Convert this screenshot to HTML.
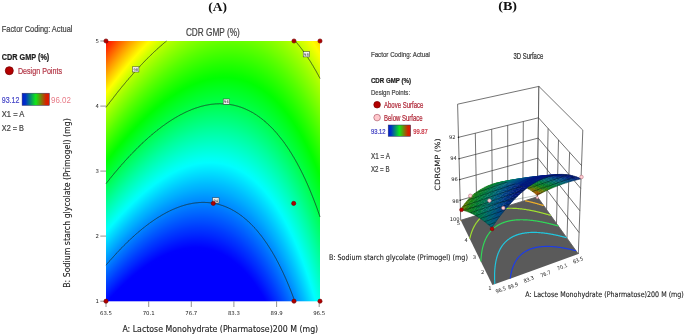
<!DOCTYPE html>
<html><head><meta charset="utf-8"><title>Figure</title><style>html,body{margin:0;padding:0;background:#fff}svg{display:block;filter:blur(0.35px)}</style></head><body>
<svg width="685" height="335" viewBox="0 0 685 335">
<defs>
<radialGradient id="rg" gradientUnits="userSpaceOnUse" cx="0" cy="0" r="1" fx="0" fy="0" gradientTransform="matrix(-341.058036 1895.843439 -352.129907 -93.723720 -72.5699 1822.8428)">
<stop offset="0.80079" stop-color="#0000ff"/>
<stop offset="0.80303" stop-color="#0000ff"/>
<stop offset="0.80526" stop-color="#0000ff"/>
<stop offset="0.80750" stop-color="#0000ff"/>
<stop offset="0.80974" stop-color="#0000ff"/>
<stop offset="0.81198" stop-color="#0000ff"/>
<stop offset="0.81422" stop-color="#0000ff"/>
<stop offset="0.81646" stop-color="#0000ff"/>
<stop offset="0.81869" stop-color="#0000ff"/>
<stop offset="0.82093" stop-color="#0000ff"/>
<stop offset="0.82317" stop-color="#0000ff"/>
<stop offset="0.82541" stop-color="#0000ff"/>
<stop offset="0.82765" stop-color="#0000ff"/>
<stop offset="0.82989" stop-color="#0001ff"/>
<stop offset="0.83212" stop-color="#000dff"/>
<stop offset="0.83436" stop-color="#0019ff"/>
<stop offset="0.83660" stop-color="#0026ff"/>
<stop offset="0.83884" stop-color="#0032ff"/>
<stop offset="0.84108" stop-color="#003eff"/>
<stop offset="0.84332" stop-color="#004bff"/>
<stop offset="0.84555" stop-color="#0057ff"/>
<stop offset="0.84779" stop-color="#0064ff"/>
<stop offset="0.85003" stop-color="#0070ff"/>
<stop offset="0.85227" stop-color="#007dff"/>
<stop offset="0.85451" stop-color="#008aff"/>
<stop offset="0.85675" stop-color="#0096ff"/>
<stop offset="0.85898" stop-color="#00a3ff"/>
<stop offset="0.86122" stop-color="#00b0ff"/>
<stop offset="0.86346" stop-color="#00bcff"/>
<stop offset="0.86570" stop-color="#00c9ff"/>
<stop offset="0.86794" stop-color="#00d6ff"/>
<stop offset="0.87018" stop-color="#00e3ff"/>
<stop offset="0.87241" stop-color="#00f0ff"/>
<stop offset="0.87465" stop-color="#00fdff"/>
<stop offset="0.87689" stop-color="#00fff4"/>
<stop offset="0.87913" stop-color="#00ffe7"/>
<stop offset="0.88137" stop-color="#00ffda"/>
<stop offset="0.88361" stop-color="#00ffcd"/>
<stop offset="0.88584" stop-color="#00ffc0"/>
<stop offset="0.88808" stop-color="#00ffb3"/>
<stop offset="0.89032" stop-color="#00ffa6"/>
<stop offset="0.89256" stop-color="#00ff99"/>
<stop offset="0.89480" stop-color="#00ff8b"/>
<stop offset="0.89704" stop-color="#00ff7e"/>
<stop offset="0.89927" stop-color="#00ff71"/>
<stop offset="0.90151" stop-color="#00ff64"/>
<stop offset="0.90375" stop-color="#00ff56"/>
<stop offset="0.90599" stop-color="#00ff49"/>
<stop offset="0.90823" stop-color="#00ff3d"/>
<stop offset="0.91047" stop-color="#00ff31"/>
<stop offset="0.91270" stop-color="#00ff26"/>
<stop offset="0.91494" stop-color="#00ff1a"/>
<stop offset="0.91718" stop-color="#00ff0e"/>
<stop offset="0.91942" stop-color="#00ff02"/>
<stop offset="0.92166" stop-color="#0aff00"/>
<stop offset="0.92390" stop-color="#16ff00"/>
<stop offset="0.92613" stop-color="#21ff00"/>
<stop offset="0.92837" stop-color="#2dff00"/>
<stop offset="0.93061" stop-color="#39ff00"/>
<stop offset="0.93285" stop-color="#45ff00"/>
<stop offset="0.93509" stop-color="#51ff00"/>
<stop offset="0.93733" stop-color="#5dff00"/>
<stop offset="0.93956" stop-color="#6aff00"/>
<stop offset="0.94180" stop-color="#76ff00"/>
<stop offset="0.94404" stop-color="#82ff00"/>
<stop offset="0.94628" stop-color="#8eff00"/>
<stop offset="0.94852" stop-color="#9aff00"/>
<stop offset="0.95076" stop-color="#a6ff00"/>
<stop offset="0.95299" stop-color="#b3ff00"/>
<stop offset="0.95523" stop-color="#c0ff00"/>
<stop offset="0.95747" stop-color="#d0ff00"/>
<stop offset="0.95971" stop-color="#e0ff00"/>
<stop offset="0.96195" stop-color="#f0ff00"/>
<stop offset="0.96419" stop-color="#fffe00"/>
<stop offset="0.96642" stop-color="#ffee00"/>
<stop offset="0.96866" stop-color="#ffdd00"/>
<stop offset="0.97090" stop-color="#ffcd00"/>
<stop offset="0.97314" stop-color="#ffbd00"/>
<stop offset="0.97538" stop-color="#ffac00"/>
<stop offset="0.97762" stop-color="#ff9c00"/>
<stop offset="0.97985" stop-color="#ff8b00"/>
<stop offset="0.98209" stop-color="#ff7b00"/>
<stop offset="0.98433" stop-color="#ff6a00"/>
<stop offset="0.98657" stop-color="#ff5a00"/>
<stop offset="0.98881" stop-color="#ff4900"/>
<stop offset="0.99105" stop-color="#ff3800"/>
<stop offset="0.99328" stop-color="#ff2800"/>
<stop offset="0.99552" stop-color="#ff1700"/>
<stop offset="0.99776" stop-color="#ff0600"/>
<stop offset="1.00000" stop-color="#ff0000"/>
</radialGradient>
<linearGradient id="cb"><stop offset="0" stop-color="#0020d0"/><stop offset="0.12" stop-color="#0030c8"/><stop offset="0.5" stop-color="#10e818"/><stop offset="0.88" stop-color="#d82000"/><stop offset="1" stop-color="#e01800"/></linearGradient>
</defs>
<rect width="685" height="335" fill="#fff"/>
<text x="1.8" y="31.6" font-family="Liberation Sans, Arial, sans-serif" font-size="9.00" font-weight="normal" fill="#444" textLength="70.6" lengthAdjust="spacingAndGlyphs" stroke="#444" stroke-width="0.22">Factor Coding: Actual</text>
<text x="1.8" y="60.2" font-family="Liberation Sans, Arial, sans-serif" font-size="8.60" font-weight="bold" fill="#1c1c1c" textLength="47.5" lengthAdjust="spacingAndGlyphs" stroke="#1c1c1c" stroke-width="0.22">CDR GMP (%)</text>
<circle cx="9.3" cy="70.7" r="4" fill="#b40000" stroke="#7a0000" stroke-width="0.8"/>
<text x="17.9" y="74.4" font-family="Liberation Sans, Arial, sans-serif" font-size="9.00" font-weight="normal" fill="#b43848" textLength="44.1" lengthAdjust="spacingAndGlyphs" stroke="#b43848" stroke-width="0.22">Design Points</text>
<text x="1.8" y="102.6" font-family="Liberation Sans, Arial, sans-serif" font-size="8.60" font-weight="normal" fill="#4848c8" textLength="17.6" lengthAdjust="spacingAndGlyphs" stroke="#4848c8" stroke-width="0.22">93.12</text>
<rect x="22.1" y="93.2" width="27.2" height="12.2" fill="url(#cb)" stroke="#303060" stroke-width="0.5"/>
<text x="51.0" y="102.9" font-family="Liberation Sans, Arial, sans-serif" font-size="9.30" font-weight="normal" fill="#e87c88" textLength="19.9" lengthAdjust="spacingAndGlyphs" stroke-opacity="0" stroke="#e87c88" stroke-width="0.22">96.02</text>
<text x="1.8" y="117.1" font-family="Liberation Sans, Arial, sans-serif" font-size="8.60" font-weight="normal" fill="#444" textLength="22.5" lengthAdjust="spacingAndGlyphs" stroke="#444" stroke-width="0.22">X1 = A</text>
<text x="1.8" y="131.0" font-family="Liberation Sans, Arial, sans-serif" font-size="8.60" font-weight="normal" fill="#444" textLength="22.1" lengthAdjust="spacingAndGlyphs" stroke="#444" stroke-width="0.22">X2 = B</text>
<text x="185.9" y="35.9" font-family="Liberation Sans, Arial, sans-serif" font-size="10.40" font-weight="normal" fill="#444" textLength="53.8" lengthAdjust="spacingAndGlyphs" stroke="#444" stroke-width="0.22">CDR GMP (%)</text>
<text x="208.2" y="10.6" font-family="Liberation Serif, Times New Roman, serif" font-size="13.20" font-weight="bold" fill="#111" textLength="18.7" lengthAdjust="spacingAndGlyphs">(A)</text>
<text x="498.2" y="10.1" font-family="Liberation Serif, Times New Roman, serif" font-size="13.20" font-weight="bold" fill="#111" textLength="18.8" lengthAdjust="spacingAndGlyphs">(B)</text>
<rect x="106.0" y="41.0" width="214.0" height="260.3" fill="url(#rg)"/>
<polyline fill="none" stroke="#1c2c24" stroke-opacity="0.85" stroke-width="0.9" points="106.0,265.2 106.3,264.8 106.5,264.5 106.8,264.2 107.1,263.9 107.3,263.6 107.6,263.3 107.9,263.0 108.1,262.7 108.4,262.3 108.7,262.0 108.9,261.7 109.2,261.4 109.5,261.1 109.7,260.8 110.0,260.5 110.3,260.2 110.5,259.9 110.8,259.6 111.1,259.3 111.4,259.0 111.6,258.7 111.9,258.4 112.2,258.1 112.4,257.8 112.7,257.5 113.0,257.2 113.2,256.9 113.5,256.6 113.8,256.3 114.0,256.0 114.3,255.7 114.6,255.4 114.8,255.1 115.1,254.8 115.4,254.5 115.6,254.2 115.9,254.0 116.2,253.7 116.4,253.4 116.7,253.1 117.0,252.8 117.2,252.5 117.5,252.2 117.8,251.9 118.0,251.7 118.3,251.4 118.6,251.1 118.8,250.8 119.1,250.5 119.4,250.2 119.6,250.0 119.9,249.7 120.2,249.4 120.4,249.1 120.7,248.8 121.0,248.6 121.2,248.3 121.5,248.0 121.8,247.7 122.0,247.5 122.3,247.2 122.6,246.9 122.9,246.6 123.1,246.4 123.4,246.1 123.7,245.8 123.9,245.6 124.2,245.3 124.5,245.0 124.7,244.8 125.0,244.5 125.3,244.2 125.5,244.0 125.8,243.7 126.1,243.4 126.3,243.2 126.6,242.9 126.9,242.6 127.1,242.4 127.4,242.1 127.7,241.9 127.9,241.6 128.2,241.4 128.5,241.1 128.7,240.8 129.0,240.6 129.3,240.3 129.5,240.1 129.8,239.8 130.1,239.6 130.3,239.3 130.6,239.1 130.9,238.8 131.1,238.6 131.4,238.3 131.7,238.1 131.9,237.8 132.2,237.6 132.5,237.3 132.8,237.1 133.0,236.8 133.3,236.6 133.6,236.4 133.8,236.1 134.1,235.9 134.4,235.6 134.6,235.4 134.9,235.2 135.2,234.9 135.4,234.7 135.7,234.4 136.0,234.2 136.2,234.0 136.5,233.7 136.8,233.5 137.0,233.3 137.3,233.0 137.6,232.8 137.8,232.6 138.1,232.3 138.4,232.1 138.6,231.9 138.9,231.7 139.2,231.4 139.4,231.2 139.7,231.0 140.0,230.8 140.2,230.5 140.5,230.3 140.8,230.1 141.0,229.9 141.3,229.7 141.6,229.4 141.8,229.2 142.1,229.0 142.4,228.8 142.6,228.6 142.9,228.3 143.2,228.1 143.4,227.9 143.7,227.7 144.0,227.5 144.3,227.3 144.5,227.1 144.8,226.9 145.1,226.6 145.3,226.4 145.6,226.2 145.9,226.0 146.1,225.8 146.4,225.6 146.7,225.4 146.9,225.2 147.2,225.0 147.5,224.8 147.7,224.6 148.0,224.4 148.3,224.2 148.5,224.0 148.8,223.8 149.1,223.6 149.3,223.4 149.6,223.2 149.9,223.0 150.1,222.8 150.4,222.6 150.7,222.4 150.9,222.2 151.2,222.1 151.5,221.9 151.7,221.7 152.0,221.5 152.3,221.3 152.5,221.1 152.8,220.9 153.1,220.7 153.3,220.6 153.6,220.4 153.9,220.2 154.2,220.0 154.4,219.8 154.7,219.7 155.0,219.5 155.2,219.3 155.5,219.1 155.8,218.9 156.0,218.8 156.3,218.6 156.6,218.4 156.8,218.2 157.1,218.1 157.4,217.9 157.6,217.7 157.9,217.6 158.2,217.4 158.4,217.2 158.7,217.1 159.0,216.9 159.2,216.7 159.5,216.6 159.8,216.4 160.0,216.2 160.3,216.1 160.6,215.9 160.8,215.8 161.1,215.6 161.4,215.4 161.6,215.3 161.9,215.1 162.2,215.0 162.4,214.8 162.7,214.7 163.0,214.5 163.2,214.3 163.5,214.2 163.8,214.0 164.0,213.9 164.3,213.7 164.6,213.6 164.8,213.5 165.1,213.3 165.4,213.2 165.7,213.0 165.9,212.9 166.2,212.7 166.5,212.6 166.7,212.4 167.0,212.3 167.3,212.2 167.5,212.0 167.8,211.9 168.1,211.8 168.3,211.6 168.6,211.5 168.9,211.4 169.1,211.2 169.4,211.1 169.7,211.0 169.9,210.8 170.2,210.7 170.5,210.6 170.7,210.4 171.0,210.3 171.3,210.2 171.5,210.1 171.8,209.9 172.1,209.8 172.3,209.7 172.6,209.6 172.9,209.5 173.1,209.3 173.4,209.2 173.7,209.1 173.9,209.0 174.2,208.9 174.5,208.8 174.7,208.7 175.0,208.5 175.3,208.4 175.6,208.3 175.8,208.2 176.1,208.1 176.4,208.0 176.6,207.9 176.9,207.8 177.2,207.7 177.4,207.6 177.7,207.5 178.0,207.4 178.2,207.3 178.5,207.2 178.8,207.1 179.0,207.0 179.3,206.9 179.6,206.8 179.8,206.7 180.1,206.6 180.4,206.5 180.6,206.4 180.9,206.3 181.2,206.2 181.4,206.1 181.7,206.1 182.0,206.0 182.2,205.9 182.5,205.8 182.8,205.7 183.0,205.6 183.3,205.5 183.6,205.5 183.8,205.4 184.1,205.3 184.4,205.2 184.6,205.2 184.9,205.1 185.2,205.0 185.4,204.9 185.7,204.9 186.0,204.8 186.2,204.7 186.5,204.6 186.8,204.6 187.1,204.5 187.3,204.4 187.6,204.4 187.9,204.3 188.1,204.2 188.4,204.2 188.7,204.1 188.9,204.1 189.2,204.0 189.5,203.9 189.7,203.9 190.0,203.8 190.3,203.8 190.5,203.7 190.8,203.7 191.1,203.6 191.3,203.6 191.6,203.5 191.9,203.5 192.1,203.4 192.4,203.4 192.7,203.3 192.9,203.3 193.2,203.2 193.5,203.2 193.7,203.2 194.0,203.1 194.3,203.1 194.5,203.0 194.8,203.0 195.1,203.0 195.3,202.9 195.6,202.9 195.9,202.9 196.1,202.8 196.4,202.8 196.7,202.8 196.9,202.7 197.2,202.7 197.5,202.7 197.8,202.7 198.0,202.6 198.3,202.6 198.6,202.6 198.8,202.6 199.1,202.6 199.4,202.5 199.6,202.5 199.9,202.5 200.2,202.5 200.4,202.5 200.7,202.5 201.0,202.5 201.2,202.5 201.5,202.4 201.8,202.4 202.0,202.4 202.3,202.4 202.6,202.4 202.8,202.4 203.1,202.4 203.4,202.4 203.6,202.4 203.9,202.4 204.2,202.4 204.4,202.4 204.7,202.4 205.0,202.4 205.2,202.4 205.5,202.5 205.8,202.5 206.0,202.5 206.3,202.5 206.6,202.5 206.8,202.5 207.1,202.5 207.4,202.5 207.7,202.6 207.9,202.6 208.2,202.6 208.5,202.6 208.7,202.7 209.0,202.7 209.3,202.7 209.5,202.7 209.8,202.8 210.1,202.8 210.3,202.8 210.6,202.8 210.9,202.9 211.1,202.9 211.4,203.0 211.7,203.0 211.9,203.0 212.2,203.1 212.5,203.1 212.7,203.1 213.0,203.2 213.3,203.2 213.5,203.3 213.8,203.3 214.1,203.4 214.3,203.4 214.6,203.5 214.9,203.5 215.1,203.6 215.4,203.6 215.7,203.7 215.9,203.8 216.2,203.8 216.5,203.9 216.7,203.9 217.0,204.0 217.3,204.1 217.5,204.1 217.8,204.2 218.1,204.3 218.3,204.3 218.6,204.4 218.9,204.5 219.2,204.5 219.4,204.6 219.7,204.7 220.0,204.8 220.2,204.9 220.5,204.9 220.8,205.0 221.0,205.1 221.3,205.2 221.6,205.3 221.8,205.4 222.1,205.4 222.4,205.5 222.6,205.6 222.9,205.7 223.2,205.8 223.4,205.9 223.7,206.0 224.0,206.1 224.2,206.2 224.5,206.3 224.8,206.4 225.0,206.5 225.3,206.6 225.6,206.7 225.8,206.8 226.1,206.9 226.4,207.0 226.6,207.2 226.9,207.3 227.2,207.4 227.4,207.5 227.7,207.6 228.0,207.7 228.2,207.9 228.5,208.0 228.8,208.1 229.1,208.2 229.3,208.4 229.6,208.5 229.9,208.6 230.1,208.8 230.4,208.9 230.7,209.0 230.9,209.2 231.2,209.3 231.5,209.4 231.7,209.6 232.0,209.7 232.3,209.9 232.5,210.0 232.8,210.2 233.1,210.3 233.3,210.5 233.6,210.6 233.9,210.8 234.1,210.9 234.4,211.1 234.7,211.2 234.9,211.4 235.2,211.6 235.5,211.7 235.7,211.9 236.0,212.1 236.3,212.2 236.5,212.4 236.8,212.6 237.1,212.7 237.3,212.9 237.6,213.1 237.9,213.3 238.1,213.4 238.4,213.6 238.7,213.8 238.9,214.0 239.2,214.2 239.5,214.4 239.8,214.5 240.0,214.7 240.3,214.9 240.6,215.1 240.8,215.3 241.1,215.5 241.4,215.7 241.6,215.9 241.9,216.1 242.2,216.3 242.4,216.5 242.7,216.7 243.0,217.0 243.2,217.2 243.5,217.4 243.8,217.6 244.0,217.8 244.3,218.0 244.6,218.2 244.8,218.5 245.1,218.7 245.4,218.9 245.6,219.1 245.9,219.4 246.2,219.6 246.4,219.8 246.7,220.1 247.0,220.3 247.2,220.6 247.5,220.8 247.8,221.0 248.0,221.3 248.3,221.5 248.6,221.8 248.8,222.0 249.1,222.3 249.4,222.5 249.6,222.8 249.9,223.0 250.2,223.3 250.5,223.6 250.7,223.8 251.0,224.1 251.3,224.4 251.5,224.6 251.8,224.9 252.1,225.2 252.3,225.4 252.6,225.7 252.9,226.0 253.1,226.3 253.4,226.6 253.7,226.9 253.9,227.1 254.2,227.4 254.5,227.7 254.7,228.0 255.0,228.3 255.3,228.6 255.5,228.9 255.8,229.2 256.1,229.5 256.3,229.8 256.6,230.1 256.9,230.4 257.1,230.7 257.4,231.1 257.7,231.4 257.9,231.7 258.2,232.0 258.5,232.3 258.7,232.7 259.0,233.0 259.3,233.3 259.5,233.7 259.8,234.0 260.1,234.3 260.3,234.7 260.6,235.0 260.9,235.3 261.1,235.7 261.4,236.0 261.7,236.4 262.0,236.7 262.2,237.1 262.5,237.4 262.8,237.8 263.0,238.2 263.3,238.5 263.6,238.9 263.8,239.3 264.1,239.6 264.4,240.0 264.6,240.4 264.9,240.8 265.2,241.1 265.4,241.5 265.7,241.9 266.0,242.3 266.2,242.7 266.5,243.1 266.8,243.5 267.0,243.9 267.3,244.3 267.6,244.7 267.8,245.1 268.1,245.5 268.4,245.9 268.6,246.3 268.9,246.7 269.2,247.1 269.4,247.6 269.7,248.0 270.0,248.4 270.2,248.8 270.5,249.3 270.8,249.7 271.0,250.1 271.3,250.6 271.6,251.0 271.9,251.5 272.1,251.9 272.4,252.3 272.7,252.8 272.9,253.3 273.2,253.7 273.5,254.2 273.7,254.6 274.0,255.1 274.3,255.6 274.5,256.0 274.8,256.5 275.1,257.0 275.3,257.5 275.6,258.0 275.9,258.4 276.1,258.9 276.4,259.4 276.7,259.9 276.9,260.4 277.2,260.9 277.5,261.4 277.7,261.9 278.0,262.4 278.3,263.0 278.5,263.5 278.8,264.0 279.1,264.5 279.3,265.0 279.6,265.6 279.9,266.1 280.1,266.6 280.4,267.2 280.7,267.7 280.9,268.3 281.2,268.8 281.5,269.4 281.7,269.9 282.0,270.5 282.3,271.0 282.6,271.6 282.8,272.2 283.1,272.7 283.4,273.3 283.6,273.9 283.9,274.5 284.2,275.0 284.4,275.6 284.7,276.2 285.0,276.8 285.2,277.4 285.5,278.0 285.8,278.6 286.0,279.2 286.3,279.8 286.6,280.5 286.8,281.1 287.1,281.7 287.4,282.3 287.6,283.0 287.9,283.6 288.2,284.2 288.4,284.9 288.7,285.5 289.0,286.2 289.2,286.8 289.5,287.5 289.8,288.2 290.0,288.8 290.3,289.5 290.6,290.2 290.8,290.9 291.1,291.5 291.4,292.2 291.6,292.9 291.9,293.6 292.2,294.3 292.4,295.0 292.7,295.7 293.0,296.4 293.2,297.1 293.5,297.9 293.8,298.6 294.1,299.3 294.3,300.1 294.6,300.8"/>
<polyline fill="none" stroke="#1c2c24" stroke-opacity="0.85" stroke-width="0.9" points="106.0,183.7 106.3,183.3 106.5,183.0 106.8,182.6 107.1,182.3 107.3,182.0 107.6,181.6 107.9,181.3 108.1,181.0 108.4,180.6 108.7,180.3 108.9,179.9 109.2,179.6 109.5,179.3 109.7,178.9 110.0,178.6 110.3,178.3 110.5,178.0 110.8,177.6 111.1,177.3 111.4,177.0 111.6,176.6 111.9,176.3 112.2,176.0 112.4,175.7 112.7,175.3 113.0,175.0 113.2,174.7 113.5,174.4 113.8,174.0 114.0,173.7 114.3,173.4 114.6,173.1 114.8,172.7 115.1,172.4 115.4,172.1 115.6,171.8 115.9,171.5 116.2,171.1 116.4,170.8 116.7,170.5 117.0,170.2 117.2,169.9 117.5,169.6 117.8,169.3 118.0,168.9 118.3,168.6 118.6,168.3 118.8,168.0 119.1,167.7 119.4,167.4 119.6,167.1 119.9,166.8 120.2,166.5 120.4,166.2 120.7,165.8 121.0,165.5 121.2,165.2 121.5,164.9 121.8,164.6 122.0,164.3 122.3,164.0 122.6,163.7 122.9,163.4 123.1,163.1 123.4,162.8 123.7,162.5 123.9,162.2 124.2,161.9 124.5,161.6 124.7,161.3 125.0,161.0 125.3,160.7 125.5,160.4 125.8,160.1 126.1,159.8 126.3,159.6 126.6,159.3 126.9,159.0 127.1,158.7 127.4,158.4 127.7,158.1 127.9,157.8 128.2,157.5 128.5,157.2 128.7,156.9 129.0,156.7 129.3,156.4 129.5,156.1 129.8,155.8 130.1,155.5 130.3,155.2 130.6,155.0 130.9,154.7 131.1,154.4 131.4,154.1 131.7,153.8 131.9,153.6 132.2,153.3 132.5,153.0 132.8,152.7 133.0,152.4 133.3,152.2 133.6,151.9 133.8,151.6 134.1,151.3 134.4,151.1 134.6,150.8 134.9,150.5 135.2,150.3 135.4,150.0 135.7,149.7 136.0,149.4 136.2,149.2 136.5,148.9 136.8,148.6 137.0,148.4 137.3,148.1 137.6,147.8 137.8,147.6 138.1,147.3 138.4,147.1 138.6,146.8 138.9,146.5 139.2,146.3 139.4,146.0 139.7,145.7 140.0,145.5 140.2,145.2 140.5,145.0 140.8,144.7 141.0,144.5 141.3,144.2 141.6,144.0 141.8,143.7 142.1,143.4 142.4,143.2 142.6,142.9 142.9,142.7 143.2,142.4 143.4,142.2 143.7,141.9 144.0,141.7 144.3,141.4 144.5,141.2 144.8,141.0 145.1,140.7 145.3,140.5 145.6,140.2 145.9,140.0 146.1,139.7 146.4,139.5 146.7,139.2 146.9,139.0 147.2,138.8 147.5,138.5 147.7,138.3 148.0,138.1 148.3,137.8 148.5,137.6 148.8,137.3 149.1,137.1 149.3,136.9 149.6,136.6 149.9,136.4 150.1,136.2 150.4,135.9 150.7,135.7 150.9,135.5 151.2,135.3 151.5,135.0 151.7,134.8 152.0,134.6 152.3,134.4 152.5,134.1 152.8,133.9 153.1,133.7 153.3,133.5 153.6,133.2 153.9,133.0 154.2,132.8 154.4,132.6 154.7,132.3 155.0,132.1 155.2,131.9 155.5,131.7 155.8,131.5 156.0,131.3 156.3,131.0 156.6,130.8 156.8,130.6 157.1,130.4 157.4,130.2 157.6,130.0 157.9,129.8 158.2,129.6 158.4,129.4 158.7,129.1 159.0,128.9 159.2,128.7 159.5,128.5 159.8,128.3 160.0,128.1 160.3,127.9 160.6,127.7 160.8,127.5 161.1,127.3 161.4,127.1 161.6,126.9 161.9,126.7 162.2,126.5 162.4,126.3 162.7,126.1 163.0,125.9 163.2,125.7 163.5,125.5 163.8,125.3 164.0,125.1 164.3,125.0 164.6,124.8 164.8,124.6 165.1,124.4 165.4,124.2 165.7,124.0 165.9,123.8 166.2,123.6 166.5,123.4 166.7,123.3 167.0,123.1 167.3,122.9 167.5,122.7 167.8,122.5 168.1,122.3 168.3,122.2 168.6,122.0 168.9,121.8 169.1,121.6 169.4,121.4 169.7,121.3 169.9,121.1 170.2,120.9 170.5,120.7 170.7,120.6 171.0,120.4 171.3,120.2 171.5,120.1 171.8,119.9 172.1,119.7 172.3,119.6 172.6,119.4 172.9,119.2 173.1,119.1 173.4,118.9 173.7,118.7 173.9,118.6 174.2,118.4 174.5,118.2 174.7,118.1 175.0,117.9 175.3,117.8 175.6,117.6 175.8,117.4 176.1,117.3 176.4,117.1 176.6,117.0 176.9,116.8 177.2,116.7 177.4,116.5 177.7,116.4 178.0,116.2 178.2,116.1 178.5,115.9 178.8,115.8 179.0,115.6 179.3,115.5 179.6,115.3 179.8,115.2 180.1,115.0 180.4,114.9 180.6,114.7 180.9,114.6 181.2,114.5 181.4,114.3 181.7,114.2 182.0,114.0 182.2,113.9 182.5,113.8 182.8,113.6 183.0,113.5 183.3,113.4 183.6,113.2 183.8,113.1 184.1,113.0 184.4,112.8 184.6,112.7 184.9,112.6 185.2,112.4 185.4,112.3 185.7,112.2 186.0,112.1 186.2,111.9 186.5,111.8 186.8,111.7 187.1,111.6 187.3,111.4 187.6,111.3 187.9,111.2 188.1,111.1 188.4,111.0 188.7,110.9 188.9,110.7 189.2,110.6 189.5,110.5 189.7,110.4 190.0,110.3 190.3,110.2 190.5,110.1 190.8,110.0 191.1,109.8 191.3,109.7 191.6,109.6 191.9,109.5 192.1,109.4 192.4,109.3 192.7,109.2 192.9,109.1 193.2,109.0 193.5,108.9 193.7,108.8 194.0,108.7 194.3,108.6 194.5,108.5 194.8,108.4 195.1,108.3 195.3,108.2 195.6,108.1 195.9,108.0 196.1,107.9 196.4,107.9 196.7,107.8 196.9,107.7 197.2,107.6 197.5,107.5 197.8,107.4 198.0,107.3 198.3,107.3 198.6,107.2 198.8,107.1 199.1,107.0 199.4,106.9 199.6,106.8 199.9,106.8 200.2,106.7 200.4,106.6 200.7,106.5 201.0,106.5 201.2,106.4 201.5,106.3 201.8,106.2 202.0,106.2 202.3,106.1 202.6,106.0 202.8,106.0 203.1,105.9 203.4,105.8 203.6,105.8 203.9,105.7 204.2,105.6 204.4,105.6 204.7,105.5 205.0,105.5 205.2,105.4 205.5,105.3 205.8,105.3 206.0,105.2 206.3,105.2 206.6,105.1 206.8,105.1 207.1,105.0 207.4,105.0 207.7,104.9 207.9,104.9 208.2,104.8 208.5,104.8 208.7,104.7 209.0,104.7 209.3,104.6 209.5,104.6 209.8,104.6 210.1,104.5 210.3,104.5 210.6,104.4 210.9,104.4 211.1,104.4 211.4,104.3 211.7,104.3 211.9,104.3 212.2,104.2 212.5,104.2 212.7,104.2 213.0,104.1 213.3,104.1 213.5,104.1 213.8,104.1 214.1,104.0 214.3,104.0 214.6,104.0 214.9,104.0 215.1,103.9 215.4,103.9 215.7,103.9 215.9,103.9 216.2,103.9 216.5,103.9 216.7,103.8 217.0,103.8 217.3,103.8 217.5,103.8 217.8,103.8 218.1,103.8 218.3,103.8 218.6,103.8 218.9,103.8 219.2,103.8 219.4,103.7 219.7,103.7 220.0,103.7 220.2,103.7 220.5,103.7 220.8,103.7 221.0,103.7 221.3,103.8 221.6,103.8 221.8,103.8 222.1,103.8 222.4,103.8 222.6,103.8 222.9,103.8 223.2,103.8 223.4,103.8 223.7,103.8 224.0,103.9 224.2,103.9 224.5,103.9 224.8,103.9 225.0,103.9 225.3,103.9 225.6,104.0 225.8,104.0 226.1,104.0 226.4,104.0 226.6,104.1 226.9,104.1 227.2,104.1 227.4,104.2 227.7,104.2 228.0,104.2 228.2,104.3 228.5,104.3 228.8,104.3 229.1,104.4 229.3,104.4 229.6,104.4 229.9,104.5 230.1,104.5 230.4,104.6 230.7,104.6 230.9,104.7 231.2,104.7 231.5,104.8 231.7,104.8 232.0,104.9 232.3,104.9 232.5,105.0 232.8,105.0 233.1,105.1 233.3,105.1 233.6,105.2 233.9,105.2 234.1,105.3 234.4,105.4 234.7,105.4 234.9,105.5 235.2,105.6 235.5,105.6 235.7,105.7 236.0,105.8 236.3,105.8 236.5,105.9 236.8,106.0 237.1,106.0 237.3,106.1 237.6,106.2 237.9,106.3 238.1,106.4 238.4,106.4 238.7,106.5 238.9,106.6 239.2,106.7 239.5,106.8 239.8,106.9 240.0,106.9 240.3,107.0 240.6,107.1 240.8,107.2 241.1,107.3 241.4,107.4 241.6,107.5 241.9,107.6 242.2,107.7 242.4,107.8 242.7,107.9 243.0,108.0 243.2,108.1 243.5,108.2 243.8,108.3 244.0,108.4 244.3,108.5 244.6,108.7 244.8,108.8 245.1,108.9 245.4,109.0 245.6,109.1 245.9,109.2 246.2,109.4 246.4,109.5 246.7,109.6 247.0,109.7 247.2,109.8 247.5,110.0 247.8,110.1 248.0,110.2 248.3,110.4 248.6,110.5 248.8,110.6 249.1,110.8 249.4,110.9 249.6,111.0 249.9,111.2 250.2,111.3 250.5,111.5 250.7,111.6 251.0,111.7 251.3,111.9 251.5,112.0 251.8,112.2 252.1,112.3 252.3,112.5 252.6,112.6 252.9,112.8 253.1,113.0 253.4,113.1 253.7,113.3 253.9,113.4 254.2,113.6 254.5,113.8 254.7,113.9 255.0,114.1 255.3,114.3 255.5,114.4 255.8,114.6 256.1,114.8 256.3,115.0 256.6,115.1 256.9,115.3 257.1,115.5 257.4,115.7 257.7,115.9 257.9,116.0 258.2,116.2 258.5,116.4 258.7,116.6 259.0,116.8 259.3,117.0 259.5,117.2 259.8,117.4 260.1,117.6 260.3,117.8 260.6,118.0 260.9,118.2 261.1,118.4 261.4,118.6 261.7,118.8 262.0,119.0 262.2,119.2 262.5,119.4 262.8,119.6 263.0,119.8 263.3,120.1 263.6,120.3 263.8,120.5 264.1,120.7 264.4,120.9 264.6,121.2 264.9,121.4 265.2,121.6 265.4,121.9 265.7,122.1 266.0,122.3 266.2,122.6 266.5,122.8 266.8,123.0 267.0,123.3 267.3,123.5 267.6,123.8 267.8,124.0 268.1,124.3 268.4,124.5 268.6,124.8 268.9,125.0 269.2,125.3 269.4,125.5 269.7,125.8 270.0,126.0 270.2,126.3 270.5,126.6 270.8,126.8 271.0,127.1 271.3,127.4 271.6,127.6 271.9,127.9 272.1,128.2 272.4,128.5 272.7,128.7 272.9,129.0 273.2,129.3 273.5,129.6 273.7,129.9 274.0,130.2 274.3,130.5 274.5,130.8 274.8,131.0 275.1,131.3 275.3,131.6 275.6,131.9 275.9,132.2 276.1,132.5 276.4,132.9 276.7,133.2 276.9,133.5 277.2,133.8 277.5,134.1 277.7,134.4 278.0,134.7 278.3,135.1 278.5,135.4 278.8,135.7 279.1,136.0 279.3,136.4 279.6,136.7 279.9,137.0 280.1,137.4 280.4,137.7 280.7,138.0 280.9,138.4 281.2,138.7 281.5,139.1 281.7,139.4 282.0,139.8 282.3,140.1 282.6,140.5 282.8,140.8 283.1,141.2 283.4,141.5 283.6,141.9 283.9,142.3 284.2,142.6 284.4,143.0 284.7,143.4 285.0,143.7 285.2,144.1 285.5,144.5 285.8,144.9 286.0,145.3 286.3,145.6 286.6,146.0 286.8,146.4 287.1,146.8 287.4,147.2 287.6,147.6 287.9,148.0 288.2,148.4 288.4,148.8 288.7,149.2 289.0,149.6 289.2,150.0 289.5,150.4 289.8,150.9 290.0,151.3 290.3,151.7 290.6,152.1 290.8,152.5 291.1,153.0 291.4,153.4 291.6,153.8 291.9,154.3 292.2,154.7 292.4,155.1 292.7,155.6 293.0,156.0 293.2,156.5 293.5,156.9 293.8,157.4 294.1,157.8 294.3,158.3 294.6,158.8 294.9,159.2 295.1,159.7 295.4,160.2 295.7,160.6 295.9,161.1 296.2,161.6 296.5,162.1 296.7,162.5 297.0,163.0 297.3,163.5 297.5,164.0 297.8,164.5 298.1,165.0 298.3,165.5 298.6,166.0 298.9,166.5 299.1,167.0 299.4,167.5 299.7,168.0 299.9,168.6 300.2,169.1 300.5,169.6 300.7,170.1 301.0,170.6 301.3,171.2 301.5,171.7 301.8,172.3 302.1,172.8 302.3,173.3 302.6,173.9 302.9,174.4 303.1,175.0 303.4,175.5 303.7,176.1 303.9,176.7 304.2,177.2 304.5,177.8 304.8,178.4 305.0,178.9 305.3,179.5 305.6,180.1 305.8,180.7 306.1,181.3 306.4,181.9 306.6,182.5 306.9,183.0 307.2,183.6 307.4,184.3 307.7,184.9 308.0,185.5 308.2,186.1 308.5,186.7 308.8,187.3 309.0,187.9 309.3,188.6 309.6,189.2 309.8,189.8 310.1,190.5 310.4,191.1 310.6,191.8 310.9,192.4 311.2,193.1 311.4,193.7 311.7,194.4 312.0,195.1 312.2,195.7 312.5,196.4 312.8,197.1 313.0,197.8 313.3,198.4 313.6,199.1 313.8,199.8 314.1,200.5 314.4,201.2 314.6,201.9 314.9,202.6 315.2,203.3 315.5,204.0 315.7,204.8 316.0,205.5 316.3,206.2 316.5,206.9 316.8,207.7 317.1,208.4 317.3,209.2 317.6,209.9 317.9,210.7 318.1,211.4 318.4,212.2 318.7,213.0 318.9,213.7 319.2,214.5 319.5,215.3 319.7,216.1 320.0,216.9"/>
<polyline fill="none" stroke="#1c2c24" stroke-opacity="0.85" stroke-width="0.9" points="106.0,107.4 106.3,107.1 106.5,106.7 106.8,106.3 107.1,106.0 107.3,105.6 107.6,105.3 107.9,104.9 108.1,104.5 108.4,104.2 108.7,103.8 108.9,103.5 109.2,103.1 109.5,102.8 109.7,102.4 110.0,102.1 110.3,101.7 110.5,101.4 110.8,101.0 111.1,100.6 111.4,100.3 111.6,99.9 111.9,99.6 112.2,99.3 112.4,98.9 112.7,98.6 113.0,98.2 113.2,97.9 113.5,97.5 113.8,97.2 114.0,96.8 114.3,96.5 114.6,96.1 114.8,95.8 115.1,95.5 115.4,95.1 115.6,94.8 115.9,94.4 116.2,94.1 116.4,93.7 116.7,93.4 117.0,93.1 117.2,92.7 117.5,92.4 117.8,92.1 118.0,91.7 118.3,91.4 118.6,91.1 118.8,90.7 119.1,90.4 119.4,90.1 119.6,89.7 119.9,89.4 120.2,89.1 120.4,88.7 120.7,88.4 121.0,88.1 121.2,87.7 121.5,87.4 121.8,87.1 122.0,86.8 122.3,86.4 122.6,86.1 122.9,85.8 123.1,85.4 123.4,85.1 123.7,84.8 123.9,84.5 124.2,84.2 124.5,83.8 124.7,83.5 125.0,83.2 125.3,82.9 125.5,82.5 125.8,82.2 126.1,81.9 126.3,81.6 126.6,81.3 126.9,81.0 127.1,80.6 127.4,80.3 127.7,80.0 127.9,79.7 128.2,79.4 128.5,79.1 128.7,78.8 129.0,78.5 129.3,78.1 129.5,77.8 129.8,77.5 130.1,77.2 130.3,76.9 130.6,76.6 130.9,76.3 131.1,76.0 131.4,75.7 131.7,75.4 131.9,75.1 132.2,74.8 132.5,74.5 132.8,74.1 133.0,73.8 133.3,73.5 133.6,73.2 133.8,72.9 134.1,72.6 134.4,72.3 134.6,72.0 134.9,71.7 135.2,71.4 135.4,71.2 135.7,70.9 136.0,70.6 136.2,70.3 136.5,70.0 136.8,69.7 137.0,69.4 137.3,69.1 137.6,68.8 137.8,68.5 138.1,68.2 138.4,67.9 138.6,67.6 138.9,67.3 139.2,67.1 139.4,66.8 139.7,66.5 140.0,66.2 140.2,65.9 140.5,65.6 140.8,65.3 141.0,65.1 141.3,64.8 141.6,64.5 141.8,64.2 142.1,63.9 142.4,63.6 142.6,63.4 142.9,63.1 143.2,62.8 143.4,62.5 143.7,62.3 144.0,62.0 144.3,61.7 144.5,61.4 144.8,61.1 145.1,60.9 145.3,60.6 145.6,60.3 145.9,60.1 146.1,59.8 146.4,59.5 146.7,59.2 146.9,59.0 147.2,58.7 147.5,58.4 147.7,58.2 148.0,57.9 148.3,57.6 148.5,57.4 148.8,57.1 149.1,56.8 149.3,56.6 149.6,56.3 149.9,56.0 150.1,55.8 150.4,55.5 150.7,55.3 150.9,55.0 151.2,54.7 151.5,54.5 151.7,54.2 152.0,54.0 152.3,53.7 152.5,53.5 152.8,53.2 153.1,52.9 153.3,52.7 153.6,52.4 153.9,52.2 154.2,51.9 154.4,51.7 154.7,51.4 155.0,51.2 155.2,50.9 155.5,50.7 155.8,50.4 156.0,50.2 156.3,49.9 156.6,49.7 156.8,49.4 157.1,49.2 157.4,49.0 157.6,48.7 157.9,48.5 158.2,48.2 158.4,48.0 158.7,47.7 159.0,47.5 159.2,47.3 159.5,47.0 159.8,46.8 160.0,46.6 160.3,46.3 160.6,46.1 160.8,45.8 161.1,45.6 161.4,45.4 161.6,45.1 161.9,44.9 162.2,44.7 162.4,44.4 162.7,44.2 163.0,44.0 163.2,43.8 163.5,43.5 163.8,43.3 164.0,43.1 164.3,42.8 164.6,42.6 164.8,42.4 165.1,42.2 165.4,41.9 165.7,41.7 165.9,41.5 166.2,41.3 166.5,41.1"/>
<polyline fill="none" stroke="#1c2c24" stroke-opacity="0.85" stroke-width="0.9" points="295.4,41.2 295.7,41.5 295.9,41.8 296.2,42.1 296.5,42.4 296.7,42.7 297.0,43.1 297.3,43.4 297.5,43.7 297.8,44.0 298.1,44.4 298.3,44.7 298.6,45.0 298.9,45.3 299.1,45.7 299.4,46.0 299.7,46.4 299.9,46.7 300.2,47.0 300.5,47.4 300.7,47.7 301.0,48.1 301.3,48.4 301.5,48.8 301.8,49.1 302.1,49.5 302.3,49.8 302.6,50.2 302.9,50.6 303.1,50.9 303.4,51.3 303.7,51.7 303.9,52.0 304.2,52.4 304.5,52.8 304.8,53.2 305.0,53.5 305.3,53.9 305.6,54.3 305.8,54.7 306.1,55.1 306.4,55.5 306.6,55.8 306.9,56.2 307.2,56.6 307.4,57.0 307.7,57.4 308.0,57.8 308.2,58.2 308.5,58.7 308.8,59.1 309.0,59.5 309.3,59.9 309.6,60.3 309.8,60.7 310.1,61.1 310.4,61.6 310.6,62.0 310.9,62.4 311.2,62.9 311.4,63.3 311.7,63.7 312.0,64.2 312.2,64.6 312.5,65.0 312.8,65.5 313.0,65.9 313.3,66.4 313.6,66.8 313.8,67.3 314.1,67.8 314.4,68.2 314.6,68.7 314.9,69.1 315.2,69.6 315.5,70.1 315.7,70.5 316.0,71.0 316.3,71.5 316.5,72.0 316.8,72.5 317.1,72.9 317.3,73.4 317.6,73.9 317.9,74.4 318.1,74.9 318.4,75.4 318.7,75.9 318.9,76.4 319.2,76.9 319.5,77.4 319.7,77.9 320.0,78.5"/>
<rect x="132.5" y="66.8" width="6.4" height="5.2" fill="#f4f4f4" stroke="#333" stroke-width="0.5"/>
<text x="135.7" y="70.7" font-family="DejaVu Sans, Verdana, sans-serif" font-size="3.60" fill="#222" text-anchor="middle">98</text>
<rect x="303.2" y="51.7" width="6.4" height="5.2" fill="#f4f4f4" stroke="#333" stroke-width="0.5"/>
<text x="306.4" y="55.6" font-family="DejaVu Sans, Verdana, sans-serif" font-size="3.60" fill="#222" text-anchor="middle">98</text>
<rect x="223.2" y="99.0" width="6.4" height="5.2" fill="#f4f4f4" stroke="#333" stroke-width="0.5"/>
<text x="226.4" y="102.9" font-family="DejaVu Sans, Verdana, sans-serif" font-size="3.60" fill="#222" text-anchor="middle">96</text>
<rect x="212.6" y="197.8" width="6.4" height="5.2" fill="#f4f4f4" stroke="#333" stroke-width="0.5"/>
<text x="215.8" y="201.7" font-family="DejaVu Sans, Verdana, sans-serif" font-size="3.60" fill="#222" text-anchor="middle">94</text>
<line x1="106.0" y1="301.3" x2="106.0" y2="307" stroke="#666" stroke-width="0.7"/>
<text x="106.0" y="315.1" font-family="DejaVu Sans, Verdana, sans-serif" font-size="5.40" fill="#222" text-anchor="middle">63.5</text>
<line x1="148.7" y1="301.3" x2="148.7" y2="307" stroke="#666" stroke-width="0.7"/>
<text x="148.7" y="315.1" font-family="DejaVu Sans, Verdana, sans-serif" font-size="5.40" fill="#222" text-anchor="middle">70.1</text>
<line x1="191.3" y1="301.3" x2="191.3" y2="307" stroke="#666" stroke-width="0.7"/>
<text x="191.3" y="315.1" font-family="DejaVu Sans, Verdana, sans-serif" font-size="5.40" fill="#222" text-anchor="middle">76.7</text>
<line x1="233.9" y1="301.3" x2="233.9" y2="307" stroke="#666" stroke-width="0.7"/>
<text x="233.9" y="315.1" font-family="DejaVu Sans, Verdana, sans-serif" font-size="5.40" fill="#222" text-anchor="middle">83.3</text>
<line x1="276.6" y1="301.3" x2="276.6" y2="307" stroke="#666" stroke-width="0.7"/>
<text x="276.6" y="315.1" font-family="DejaVu Sans, Verdana, sans-serif" font-size="5.40" fill="#222" text-anchor="middle">89.9</text>
<line x1="319.2" y1="301.3" x2="319.2" y2="307" stroke="#666" stroke-width="0.7"/>
<text x="319.2" y="315.1" font-family="DejaVu Sans, Verdana, sans-serif" font-size="5.40" fill="#222" text-anchor="middle">96.5</text>
<line x1="100.3" y1="301.2" x2="106" y2="301.2" stroke="#666" stroke-width="0.7"/>
<text x="97.3" y="303.2" font-family="DejaVu Sans, Verdana, sans-serif" font-size="5.40" fill="#222" text-anchor="middle">1</text>
<line x1="100.3" y1="236.1" x2="106" y2="236.1" stroke="#666" stroke-width="0.7"/>
<text x="97.3" y="238.1" font-family="DejaVu Sans, Verdana, sans-serif" font-size="5.40" fill="#222" text-anchor="middle">2</text>
<line x1="100.3" y1="171.1" x2="106" y2="171.1" stroke="#666" stroke-width="0.7"/>
<text x="97.3" y="173.1" font-family="DejaVu Sans, Verdana, sans-serif" font-size="5.40" fill="#222" text-anchor="middle">3</text>
<line x1="100.3" y1="106.1" x2="106" y2="106.1" stroke="#666" stroke-width="0.7"/>
<text x="97.3" y="108.1" font-family="DejaVu Sans, Verdana, sans-serif" font-size="5.40" fill="#222" text-anchor="middle">4</text>
<line x1="100.3" y1="41.0" x2="106" y2="41.0" stroke="#666" stroke-width="0.7"/>
<text x="97.3" y="43.0" font-family="DejaVu Sans, Verdana, sans-serif" font-size="5.40" fill="#222" text-anchor="middle">5</text>
<circle cx="106.0" cy="41.0" r="2.1" fill="#b00000" stroke="#700000" stroke-width="0.6"/>
<circle cx="294.0" cy="41.0" r="2.1" fill="#b00000" stroke="#700000" stroke-width="0.6"/>
<circle cx="320.0" cy="41.0" r="2.1" fill="#b00000" stroke="#700000" stroke-width="0.6"/>
<circle cx="213.3" cy="203.4" r="2.1" fill="#b00000" stroke="#700000" stroke-width="0.6"/>
<circle cx="293.7" cy="203.4" r="2.1" fill="#b00000" stroke="#700000" stroke-width="0.6"/>
<circle cx="106.0" cy="301.2" r="2.1" fill="#b00000" stroke="#700000" stroke-width="0.6"/>
<circle cx="294.0" cy="301.2" r="2.1" fill="#b00000" stroke="#700000" stroke-width="0.6"/>
<circle cx="320.0" cy="301.2" r="2.1" fill="#b00000" stroke="#700000" stroke-width="0.6"/>
<text x="122.4" y="332.1" font-family="DejaVu Sans, Verdana, sans-serif" font-size="8.00" font-weight="normal" fill="#222" textLength="195.8" lengthAdjust="spacingAndGlyphs" stroke="#222" stroke-width="0.12">A: Lactose Monohydrate (Pharmatose)200 M (mg)</text>
<g transform="translate(70.3 287.8) rotate(-90)">
<text x="0.0" y="0.0" font-family="DejaVu Sans, Verdana, sans-serif" font-size="8.00" font-weight="normal" fill="#222" textLength="169.6" lengthAdjust="spacingAndGlyphs" stroke="#222" stroke-width="0.12">B: Sodium starch glycolate (Primogel) (mg)</text>
</g>
<text x="370.9" y="57.1" font-family="Liberation Sans, Arial, sans-serif" font-size="7.70" font-weight="normal" fill="#444" textLength="59.1" lengthAdjust="spacingAndGlyphs" stroke="#444" stroke-width="0.22">Factor Coding: Actual</text>
<text x="513.5" y="59.4" font-family="Liberation Sans, Arial, sans-serif" font-size="8.40" font-weight="normal" fill="#333" textLength="29.7" lengthAdjust="spacingAndGlyphs" stroke="#333" stroke-width="0.22">3D Surface</text>
<text x="370.9" y="82.7" font-family="Liberation Sans, Arial, sans-serif" font-size="7.60" font-weight="bold" fill="#1c1c1c" textLength="40.2" lengthAdjust="spacingAndGlyphs" stroke="#1c1c1c" stroke-width="0.22">CDR GMP (%)</text>
<text x="370.9" y="95.3" font-family="Liberation Sans, Arial, sans-serif" font-size="8.00" font-weight="normal" fill="#444" textLength="39.2" lengthAdjust="spacingAndGlyphs" stroke="#444" stroke-width="0.22">Design Points:</text>
<circle cx="377.1" cy="104.7" r="3.3" fill="#b40000" stroke="#7a0000" stroke-width="0.7"/>
<text x="384.0" y="107.8" font-family="Liberation Sans, Arial, sans-serif" font-size="8.20" font-weight="normal" fill="#b02838" textLength="39.3" lengthAdjust="spacingAndGlyphs" stroke="#b02838" stroke-width="0.22">Above Surface</text>
<circle cx="377.1" cy="117.6" r="3.3" fill="#ffc8cc" stroke="#b06070" stroke-width="0.7"/>
<text x="384.0" y="121.0" font-family="Liberation Sans, Arial, sans-serif" font-size="8.20" font-weight="normal" fill="#b02838" textLength="38.6" lengthAdjust="spacingAndGlyphs" stroke="#b02838" stroke-width="0.22">Below Surface</text>
<text x="370.9" y="133.6" font-family="Liberation Sans, Arial, sans-serif" font-size="7.60" font-weight="normal" fill="#3838c0" textLength="14.6" lengthAdjust="spacingAndGlyphs" stroke="#3838c0" stroke-width="0.22">93.12</text>
<rect x="388.2" y="125" width="22.5" height="11.3" fill="url(#cb)" stroke="#303060" stroke-width="0.5"/>
<text x="413.2" y="133.6" font-family="Liberation Sans, Arial, sans-serif" font-size="7.60" font-weight="normal" fill="#c82838" textLength="14.6" lengthAdjust="spacingAndGlyphs" stroke="#c82838" stroke-width="0.22">99.87</text>
<text x="370.9" y="158.8" font-family="Liberation Sans, Arial, sans-serif" font-size="8.20" font-weight="normal" fill="#444" textLength="19.0" lengthAdjust="spacingAndGlyphs" stroke="#444" stroke-width="0.22">X1 = A</text>
<text x="370.9" y="172.0" font-family="Liberation Sans, Arial, sans-serif" font-size="8.20" font-weight="normal" fill="#444" textLength="18.6" lengthAdjust="spacingAndGlyphs" stroke="#444" stroke-width="0.22">X2 = B</text>
<polygon points="457.6,104.2 538.9,86.4 537.4,196.8 460.7,220.3" fill="#fff" stroke="#383838" stroke-width="0.7"/>
<polygon points="538.9,86.4 582.8,130.1 578.3,254.0 537.4,196.8" fill="#fff" stroke="#383838" stroke-width="0.7"/>
<polyline points="458.5,137.3 538.5,117.8 581.5,165.5" stroke="#383838" stroke-width="0.7" fill="none"/>
<circle cx="458.5" cy="137.3" r="0.8" fill="#222"/>
<polyline points="459.1,158.7 538.2,138.1 580.7,188.4" stroke="#383838" stroke-width="0.7" fill="none"/>
<circle cx="459.1" cy="158.7" r="0.8" fill="#222"/>
<polyline points="459.6,179.6 537.9,158.1 579.9,210.8" stroke="#383838" stroke-width="0.7" fill="none"/>
<circle cx="459.6" cy="179.6" r="0.8" fill="#222"/>
<polyline points="460.2,200.2 537.7,177.6 579.1,232.6" stroke="#383838" stroke-width="0.7" fill="none"/>
<circle cx="460.2" cy="200.2" r="0.8" fill="#222"/>
<polyline points="523.3,121.5 522.8,201.3" stroke="#383838" stroke-width="0.7" fill="none"/>
<polyline points="507.7,125.3 507.8,205.9" stroke="#383838" stroke-width="0.7" fill="none"/>
<polyline points="491.7,129.2 492.5,210.5" stroke="#383838" stroke-width="0.7" fill="none"/>
<polyline points="475.3,133.2 476.8,215.3" stroke="#383838" stroke-width="0.7" fill="none"/>
<polyline points="569.6,152.2 567.0,238.2" stroke="#383838" stroke-width="0.7" fill="none"/>
<polyline points="558.5,139.9 556.5,223.4" stroke="#383838" stroke-width="0.7" fill="none"/>
<polyline points="548.1,128.5 546.6,209.7" stroke="#383838" stroke-width="0.7" fill="none"/>
<polygon points="460.7,220.3 492.4,285.1 578.3,254.0 537.4,196.8" fill="#5a5a5a"/>
<polyline points="576.0,250.8 575.8,250.7 575.6,250.6 575.4,250.6 575.2,250.5 575.0,250.5 574.8,250.4 574.6,250.4 574.3,250.3 574.1,250.3 573.9,250.2 573.7,250.2 573.5,250.1 573.3,250.1 573.1,250.0 572.9,250.0 572.7,249.9 572.5,249.9 572.3,249.8 572.1,249.8 571.9,249.7 571.7,249.7 571.5,249.6 571.3,249.6 571.1,249.5 570.9,249.5 570.7,249.5 570.5,249.4 570.3,249.4 570.1,249.3 569.9,249.3 569.7,249.2 569.5,249.2 569.3,249.1 569.1,249.1 568.9,249.1 568.7,249.0 568.5,249.0 568.4,248.9 568.2,248.9 568.0,248.8 567.8,248.8 567.6,248.8 567.4,248.7 567.2,248.7 567.0,248.6 566.8,248.6 566.6,248.6 566.4,248.5 566.2,248.5 566.0,248.4 565.8,248.4 565.6,248.4 565.4,248.3 565.3,248.3 565.1,248.3 564.9,248.2 564.7,248.2 564.5,248.2 564.3,248.1 564.1,248.1 563.9,248.1 563.7,248.0 563.5,248.0 563.3,248.0 563.2,247.9 563.0,247.9 562.8,247.9 562.6,247.8 562.4,247.8 562.2,247.8 562.0,247.7 561.8,247.7 561.7,247.7 561.5,247.6 561.3,247.6 561.1,247.6 560.9,247.5 560.7,247.5 560.5,247.5 560.4,247.5 560.2,247.4 560.0,247.4 559.8,247.4 559.6,247.4 559.4,247.3 559.2,247.3 559.1,247.3 558.9,247.3 558.7,247.2 558.5,247.2 558.3,247.2 558.2,247.2 558.0,247.1 557.8,247.1 557.6,247.1 557.4,247.1 557.2,247.0 557.1,247.0 556.9,247.0 556.7,247.0 556.5,247.0 556.3,246.9 556.2,246.9 556.0,246.9 555.8,246.9 555.6,246.9 555.5,246.8 555.3,246.8 555.1,246.8 554.9,246.8 554.7,246.8 554.6,246.8 554.4,246.7 554.2,246.7 554.0,246.7 553.9,246.7 553.7,246.7 553.5,246.7 553.3,246.7 553.2,246.6 553.0,246.6 552.8,246.6 552.6,246.6 552.5,246.6 552.3,246.6 552.1,246.6 551.9,246.6 551.8,246.5 551.6,246.5 551.4,246.5 551.2,246.5 551.1,246.5 550.9,246.5 550.7,246.5 550.6,246.5 550.4,246.5 550.2,246.5 550.1,246.5 549.9,246.4 549.7,246.4 549.5,246.4 549.4,246.4 549.2,246.4 549.0,246.4 548.9,246.4 548.7,246.4 548.5,246.4 548.4,246.4 548.2,246.4 548.0,246.4 547.9,246.4 547.7,246.4 547.5,246.4 547.4,246.4 547.2,246.4 547.0,246.4 546.9,246.4 546.7,246.4 546.5,246.4 546.4,246.4 546.2,246.4 546.0,246.4 545.9,246.4 545.7,246.4 545.6,246.4 545.4,246.4 545.2,246.4 545.1,246.4 544.9,246.4 544.7,246.4 544.6,246.4 544.4,246.5 544.3,246.5 544.1,246.5 543.9,246.5 543.8,246.5 543.6,246.5 543.5,246.5 543.3,246.5 543.1,246.5 543.0,246.5 542.8,246.5 542.7,246.5 542.5,246.6 542.3,246.6 542.2,246.6 542.0,246.6 541.9,246.6 541.7,246.6 541.6,246.6 541.4,246.7 541.2,246.7 541.1,246.7 540.9,246.7 540.8,246.7 540.6,246.7 540.5,246.7 540.3,246.8 540.2,246.8 540.0,246.8 539.8,246.8 539.7,246.8 539.5,246.9 539.4,246.9 539.2,246.9 539.1,246.9 538.9,246.9 538.8,247.0 538.6,247.0 538.5,247.0 538.3,247.0 538.2,247.1 538.0,247.1 537.9,247.1 537.7,247.1 537.6,247.2 537.4,247.2 537.3,247.2 537.1,247.2 537.0,247.3 536.8,247.3 536.7,247.3 536.5,247.3 536.4,247.4 536.2,247.4 536.1,247.4 535.9,247.5 535.8,247.5 535.7,247.5 535.5,247.6 535.4,247.6 535.2,247.6 535.1,247.7 534.9,247.7 534.8,247.7 534.6,247.8 534.5,247.8 534.3,247.8 534.2,247.9 534.1,247.9 533.9,247.9 533.8,248.0 533.6,248.0 533.5,248.1 533.4,248.1 533.2,248.1 533.1,248.2 532.9,248.2 532.8,248.3 532.6,248.3 532.5,248.3 532.4,248.4 532.2,248.4 532.1,248.5 531.9,248.5 531.8,248.6 531.7,248.6 531.5,248.7 531.4,248.7 531.3,248.8 531.1,248.8 531.0,248.9 530.8,248.9 530.7,248.9 530.6,249.0 530.4,249.0 530.3,249.1 530.2,249.2 530.0,249.2 529.9,249.3 529.8,249.3 529.6,249.4 529.5,249.4 529.4,249.5 529.2,249.5 529.1,249.6 529.0,249.6 528.8,249.7 528.7,249.8 528.6,249.8 528.4,249.9 528.3,249.9 528.2,250.0 528.1,250.1 527.9,250.1 527.8,250.2 527.7,250.2 527.5,250.3 527.4,250.4 527.3,250.4 527.1,250.5 527.0,250.6 526.9,250.6 526.8,250.7 526.6,250.8 526.5,250.8 526.4,250.9 526.3,251.0 526.1,251.0 526.0,251.1 525.9,251.2 525.8,251.2 525.6,251.3 525.5,251.4 525.4,251.5 525.3,251.5 525.1,251.6 525.0,251.7 524.9,251.8 524.8,251.8 524.7,251.9 524.5,252.0 524.4,252.1 524.3,252.2 524.2,252.2 524.1,252.3 523.9,252.4 523.8,252.5 523.7,252.6 523.6,252.6 523.5,252.7 523.3,252.8 523.2,252.9 523.1,253.0 523.0,253.1 522.9,253.2 522.8,253.2 522.6,253.3 522.5,253.4 522.4,253.5 522.3,253.6 522.2,253.7 522.1,253.8 522.0,253.9 521.8,254.0 521.7,254.1 521.6,254.2 521.5,254.3 521.4,254.4 521.3,254.5 521.2,254.5 521.1,254.6 520.9,254.7 520.8,254.8 520.7,254.9 520.6,255.1 520.5,255.2 520.4,255.3 520.3,255.4 520.2,255.5 520.1,255.6 520.0,255.7 519.9,255.8 519.8,255.9 519.7,256.0 519.5,256.1 519.4,256.2 519.3,256.3 519.2,256.4 519.1,256.6 519.0,256.7 518.9,256.8 518.8,256.9 518.7,257.0 518.6,257.1 518.5,257.3 518.4,257.4 518.3,257.5 518.2,257.6 518.1,257.7 518.0,257.9 517.9,258.0 517.8,258.1 517.7,258.2 517.6,258.4 517.5,258.5 517.4,258.6 517.3,258.7 517.2,258.9 517.1,259.0 517.0,259.1 516.9,259.3 516.9,259.4 516.8,259.5 516.7,259.7 516.6,259.8 516.5,260.0 516.4,260.1 516.3,260.2 516.2,260.4 516.1,260.5 516.0,260.7 515.9,260.8 515.8,260.9 515.8,261.1 515.7,261.2 515.6,261.4 515.5,261.5 515.4,261.7 515.3,261.8 515.2,262.0 515.2,262.1 515.1,262.3 515.0,262.4 514.9,262.6 514.8,262.8 514.7,262.9 514.7,263.1 514.6,263.2 514.5,263.4 514.4,263.6 514.3,263.7 514.2,263.9 514.2,264.1 514.1,264.2 514.0,264.4 513.9,264.6 513.9,264.7 513.8,264.9 513.7,265.1 513.6,265.3 513.6,265.4 513.5,265.6 513.4,265.8 513.3,266.0 513.3,266.2 513.2,266.3 513.1,266.5 513.0,266.7 513.0,266.9 512.9,267.1 512.8,267.3 512.8,267.5 512.7,267.6 512.6,267.8 512.6,268.0 512.5,268.2 512.4,268.4 512.4,268.6 512.3,268.8 512.2,269.0 512.2,269.2 512.1,269.4 512.1,269.6 512.0,269.8 511.9,270.1 511.9,270.3 511.8,270.5 511.8,270.7 511.7,270.9 511.6,271.1 511.6,271.3 511.5,271.6 511.5,271.8 511.4,272.0 511.4,272.2 511.3,272.5 511.3,272.7 511.2,272.9 511.2,273.1 511.1,273.4 511.1,273.6 511.0,273.8 511.0,274.1 510.9,274.3 510.9,274.6 510.8,274.8 510.8,275.0 510.7,275.3 510.7,275.5 510.7,275.8 510.6,276.0 510.6,276.3 510.5,276.6 510.5,276.8 510.5,277.1 510.4,277.3 510.4,277.6 510.3,277.9 510.3,278.1 510.3,278.4" fill="none" stroke="#1c3ce8" stroke-width="1.15"/>
<polyline points="566.7,237.7 566.5,237.7 566.3,237.6 566.1,237.6 565.9,237.5 565.7,237.5 565.5,237.4 565.3,237.3 565.1,237.3 564.9,237.2 564.7,237.2 564.5,237.1 564.3,237.1 564.1,237.0 563.9,237.0 563.7,236.9 563.5,236.9 563.3,236.8 563.1,236.8 562.9,236.7 562.7,236.7 562.5,236.6 562.3,236.6 562.1,236.5 561.9,236.5 561.7,236.4 561.5,236.4 561.3,236.3 561.1,236.3 560.9,236.2 560.7,236.2 560.5,236.1 560.3,236.1 560.1,236.0 559.9,236.0 559.7,235.9 559.5,235.9 559.3,235.8 559.1,235.8 558.9,235.7 558.8,235.7 558.6,235.7 558.4,235.6 558.2,235.6 558.0,235.5 557.8,235.5 557.6,235.4 557.4,235.4 557.2,235.3 557.0,235.3 556.8,235.3 556.6,235.2 556.5,235.2 556.3,235.1 556.1,235.1 555.9,235.1 555.7,235.0 555.5,235.0 555.3,234.9 555.1,234.9 554.9,234.9 554.8,234.8 554.6,234.8 554.4,234.7 554.2,234.7 554.0,234.7 553.8,234.6 553.6,234.6 553.4,234.6 553.3,234.5 553.1,234.5 552.9,234.4 552.7,234.4 552.5,234.4 552.3,234.3 552.1,234.3 552.0,234.3 551.8,234.2 551.6,234.2 551.4,234.2 551.2,234.1 551.0,234.1 550.8,234.1 550.7,234.0 550.5,234.0 550.3,234.0 550.1,233.9 549.9,233.9 549.8,233.9 549.6,233.8 549.4,233.8 549.2,233.8 549.0,233.8 548.8,233.7 548.7,233.7 548.5,233.7 548.3,233.6 548.1,233.6 547.9,233.6 547.8,233.6 547.6,233.5 547.4,233.5 547.2,233.5 547.1,233.4 546.9,233.4 546.7,233.4 546.5,233.4 546.3,233.3 546.2,233.3 546.0,233.3 545.8,233.3 545.6,233.2 545.5,233.2 545.3,233.2 545.1,233.2 544.9,233.2 544.8,233.1 544.6,233.1 544.4,233.1 544.2,233.1 544.1,233.0 543.9,233.0 543.7,233.0 543.5,233.0 543.4,233.0 543.2,232.9 543.0,232.9 542.8,232.9 542.7,232.9 542.5,232.9 542.3,232.9 542.1,232.8 542.0,232.8 541.8,232.8 541.6,232.8 541.5,232.8 541.3,232.8 541.1,232.7 540.9,232.7 540.8,232.7 540.6,232.7 540.4,232.7 540.3,232.7 540.1,232.7 539.9,232.6 539.8,232.6 539.6,232.6 539.4,232.6 539.3,232.6 539.1,232.6 538.9,232.6 538.7,232.6 538.6,232.5 538.4,232.5 538.2,232.5 538.1,232.5 537.9,232.5 537.7,232.5 537.6,232.5 537.4,232.5 537.3,232.5 537.1,232.5 536.9,232.5 536.8,232.5 536.6,232.4 536.4,232.4 536.3,232.4 536.1,232.4 535.9,232.4 535.8,232.4 535.6,232.4 535.4,232.4 535.3,232.4 535.1,232.4 535.0,232.4 534.8,232.4 534.6,232.4 534.5,232.4 534.3,232.4 534.1,232.4 534.0,232.4 533.8,232.4 533.7,232.4 533.5,232.4 533.3,232.4 533.2,232.4 533.0,232.4 532.9,232.4 532.7,232.4 532.6,232.4 532.4,232.4 532.2,232.4 532.1,232.4 531.9,232.4 531.8,232.4 531.6,232.4 531.4,232.4 531.3,232.4 531.1,232.4 531.0,232.4 530.8,232.4 530.7,232.5 530.5,232.5 530.4,232.5 530.2,232.5 530.0,232.5 529.9,232.5 529.7,232.5 529.6,232.5 529.4,232.5 529.3,232.5 529.1,232.5 529.0,232.5 528.8,232.6 528.7,232.6 528.5,232.6 528.3,232.6 528.2,232.6 528.0,232.6 527.9,232.6 527.7,232.6 527.6,232.7 527.4,232.7 527.3,232.7 527.1,232.7 527.0,232.7 526.8,232.7 526.7,232.8 526.5,232.8 526.4,232.8 526.2,232.8 526.1,232.8 525.9,232.8 525.8,232.9 525.6,232.9 525.5,232.9 525.3,232.9 525.2,232.9 525.0,233.0 524.9,233.0 524.8,233.0 524.6,233.0 524.5,233.1 524.3,233.1 524.2,233.1 524.0,233.1 523.9,233.1 523.7,233.2 523.6,233.2 523.4,233.2 523.3,233.2 523.2,233.3 523.0,233.3 522.9,233.3 522.7,233.4 522.6,233.4 522.4,233.4 522.3,233.4 522.1,233.5 522.0,233.5 521.9,233.5 521.7,233.6 521.6,233.6 521.4,233.6 521.3,233.7 521.2,233.7 521.0,233.7 520.9,233.8 520.7,233.8 520.6,233.8 520.5,233.9 520.3,233.9 520.2,233.9 520.0,234.0 519.9,234.0 519.8,234.0 519.6,234.1 519.5,234.1 519.3,234.1 519.2,234.2 519.1,234.2 518.9,234.3 518.8,234.3 518.7,234.3 518.5,234.4 518.4,234.4 518.3,234.5 518.1,234.5 518.0,234.6 517.9,234.6 517.7,234.6 517.6,234.7 517.4,234.7 517.3,234.8 517.2,234.8 517.0,234.9 516.9,234.9 516.8,235.0 516.6,235.0 516.5,235.1 516.4,235.1 516.3,235.2 516.1,235.2 516.0,235.3 515.9,235.3 515.7,235.4 515.6,235.4 515.5,235.5 515.3,235.5 515.2,235.6 515.1,235.6 514.9,235.7 514.8,235.7 514.7,235.8 514.6,235.8 514.4,235.9 514.3,236.0 514.2,236.0 514.1,236.1 513.9,236.1 513.8,236.2 513.7,236.2 513.5,236.3 513.4,236.4 513.3,236.4 513.2,236.5 513.0,236.5 512.9,236.6 512.8,236.7 512.7,236.7 512.5,236.8 512.4,236.9 512.3,236.9 512.2,237.0 512.1,237.1 511.9,237.1 511.8,237.2 511.7,237.3 511.6,237.3 511.4,237.4 511.3,237.5 511.2,237.5 511.1,237.6 511.0,237.7 510.8,237.8 510.7,237.8 510.6,237.9 510.5,238.0 510.4,238.1 510.2,238.1 510.1,238.2 510.0,238.3 509.9,238.4 509.8,238.4 509.7,238.5 509.5,238.6 509.4,238.7 509.3,238.8 509.2,238.8 509.1,238.9 509.0,239.0 508.8,239.1 508.7,239.2 508.6,239.2 508.5,239.3 508.4,239.4 508.3,239.5 508.2,239.6 508.0,239.7 507.9,239.8 507.8,239.9 507.7,239.9 507.6,240.0 507.5,240.1 507.4,240.2 507.3,240.3 507.2,240.4 507.0,240.5 506.9,240.6 506.8,240.7 506.7,240.8 506.6,240.9 506.5,241.0 506.4,241.1 506.3,241.2 506.2,241.3 506.1,241.4 506.0,241.5 505.9,241.6 505.7,241.7 505.6,241.8 505.5,241.9 505.4,242.0 505.3,242.1 505.2,242.2 505.1,242.3 505.0,242.4 504.9,242.5 504.8,242.6 504.7,242.7 504.6,242.8 504.5,242.9 504.4,243.1 504.3,243.2 504.2,243.3 504.1,243.4 504.0,243.5 503.9,243.6 503.8,243.7 503.7,243.9 503.6,244.0 503.5,244.1 503.4,244.2 503.3,244.3 503.2,244.5 503.1,244.6 503.0,244.7 502.9,244.8 502.8,244.9 502.7,245.1 502.6,245.2 502.5,245.3 502.4,245.5 502.4,245.6 502.3,245.7 502.2,245.8 502.1,246.0 502.0,246.1 501.9,246.2 501.8,246.4 501.7,246.5 501.6,246.6 501.5,246.8 501.4,246.9 501.3,247.1 501.3,247.2 501.2,247.3 501.1,247.5 501.0,247.6 500.9,247.8 500.8,247.9 500.7,248.1 500.7,248.2 500.6,248.4 500.5,248.5 500.4,248.7 500.3,248.8 500.2,249.0 500.1,249.1 500.1,249.3 500.0,249.4 499.9,249.6 499.8,249.7 499.7,249.9 499.7,250.0 499.6,250.2 499.5,250.4 499.4,250.5 499.3,250.7 499.3,250.9 499.2,251.0 499.1,251.2 499.0,251.4 499.0,251.5 498.9,251.7 498.8,251.9 498.7,252.0 498.7,252.2 498.6,252.4 498.5,252.6 498.4,252.7 498.4,252.9 498.3,253.1 498.2,253.3 498.1,253.5 498.1,253.6 498.0,253.8 497.9,254.0 497.9,254.2 497.8,254.4 497.7,254.6 497.7,254.8 497.6,255.0 497.5,255.2 497.5,255.3 497.4,255.5 497.3,255.7 497.3,255.9 497.2,256.1 497.2,256.3 497.1,256.5 497.0,256.7 497.0,257.0 496.9,257.2 496.8,257.4 496.8,257.6 496.7,257.8 496.7,258.0 496.6,258.2 496.6,258.4 496.5,258.7 496.4,258.9 496.4,259.1 496.3,259.3 496.3,259.5 496.2,259.8 496.2,260.0 496.1,260.2 496.1,260.5 496.0,260.7 496.0,260.9 495.9,261.2 495.9,261.4 495.8,261.6 495.8,261.9 495.8,262.1 495.7,262.4 495.7,262.6 495.6,262.9 495.6,263.1 495.5,263.4 495.5,263.6 495.5,263.9 495.4,264.1 495.4,264.4 495.3,264.6 495.3,264.9 495.3,265.2 495.2,265.4 495.2,265.7 495.2,266.0 495.1,266.2 495.1,266.5 495.1,266.8 495.0,267.1 495.0,267.3 495.0,267.6 495.0,267.9 494.9,268.2 494.9,268.5 494.9,268.8 494.8,269.1 494.8,269.4 494.8,269.7 494.8,270.0 494.8,270.3 494.7,270.6 494.7,270.9 494.7,271.2 494.7,271.5 494.7,271.8 494.7,272.1 494.6,272.5 494.6,272.8 494.6,273.1 494.6,273.4 494.6,273.8 494.6,274.1 494.6,274.4 494.6,274.8 494.6,275.1 494.6,275.5 494.6,275.8 494.6,276.2 494.6,276.5 494.6,276.9 494.6,277.2 494.6,277.6 494.6,278.0 494.6,278.3 494.6,278.7 494.6,279.1 494.6,279.5 494.6,279.8 494.7,280.2 494.7,280.6 494.7,281.0 494.7,281.4 494.7,281.8 494.7,282.2 494.8,282.6 494.8,283.0 494.8,283.4 494.8,283.9" fill="none" stroke="#20c8e0" stroke-width="1.15"/>
<polyline points="558.3,226.0 558.1,225.9 557.9,225.9 557.7,225.8 557.5,225.8 557.3,225.7 557.1,225.7 556.9,225.6 556.7,225.5 556.5,225.5 556.3,225.4 556.1,225.4 555.9,225.3 555.7,225.3 555.5,225.2 555.3,225.2 555.1,225.1 554.9,225.1 554.7,225.0 554.5,224.9 554.3,224.9 554.1,224.8 553.9,224.8 553.8,224.7 553.6,224.7 553.4,224.6 553.2,224.6 553.0,224.5 552.8,224.5 552.6,224.4 552.4,224.4 552.2,224.3 552.0,224.3 551.8,224.2 551.6,224.2 551.4,224.1 551.2,224.1 551.1,224.0 550.9,224.0 550.7,223.9 550.5,223.9 550.3,223.8 550.1,223.8 549.9,223.7 549.7,223.7 549.5,223.6 549.3,223.6 549.2,223.6 549.0,223.5 548.8,223.5 548.6,223.4 548.4,223.4 548.2,223.3 548.0,223.3 547.8,223.2 547.6,223.2 547.5,223.2 547.3,223.1 547.1,223.1 546.9,223.0 546.7,223.0 546.5,222.9 546.3,222.9 546.2,222.9 546.0,222.8 545.8,222.8 545.6,222.7 545.4,222.7 545.2,222.6 545.0,222.6 544.9,222.6 544.7,222.5 544.5,222.5 544.3,222.4 544.1,222.4 543.9,222.4 543.8,222.3 543.6,222.3 543.4,222.3 543.2,222.2 543.0,222.2 542.8,222.1 542.7,222.1 542.5,222.1 542.3,222.0 542.1,222.0 541.9,222.0 541.8,221.9 541.6,221.9 541.4,221.9 541.2,221.8 541.0,221.8 540.9,221.8 540.7,221.7 540.5,221.7 540.3,221.7 540.1,221.6 540.0,221.6 539.8,221.6 539.6,221.5 539.4,221.5 539.3,221.5 539.1,221.4 538.9,221.4 538.7,221.4 538.5,221.3 538.4,221.3 538.2,221.3 538.0,221.2 537.8,221.2 537.7,221.2 537.5,221.2 537.3,221.1 537.1,221.1 537.0,221.1 536.8,221.0 536.6,221.0 536.4,221.0 536.3,221.0 536.1,220.9 535.9,220.9 535.7,220.9 535.6,220.9 535.4,220.8 535.2,220.8 535.1,220.8 534.9,220.8 534.7,220.7 534.5,220.7 534.4,220.7 534.2,220.7 534.0,220.6 533.9,220.6 533.7,220.6 533.5,220.6 533.3,220.6 533.2,220.5 533.0,220.5 532.8,220.5 532.7,220.5 532.5,220.4 532.3,220.4 532.2,220.4 532.0,220.4 531.8,220.4 531.6,220.3 531.5,220.3 531.3,220.3 531.1,220.3 531.0,220.3 530.8,220.3 530.6,220.2 530.5,220.2 530.3,220.2 530.1,220.2 530.0,220.2 529.8,220.2 529.6,220.1 529.5,220.1 529.3,220.1 529.1,220.1 529.0,220.1 528.8,220.1 528.6,220.0 528.5,220.0 528.3,220.0 528.2,220.0 528.0,220.0 527.8,220.0 527.7,220.0 527.5,220.0 527.3,219.9 527.2,219.9 527.0,219.9 526.8,219.9 526.7,219.9 526.5,219.9 526.4,219.9 526.2,219.9 526.0,219.9 525.9,219.9 525.7,219.8 525.6,219.8 525.4,219.8 525.2,219.8 525.1,219.8 524.9,219.8 524.8,219.8 524.6,219.8 524.4,219.8 524.3,219.8 524.1,219.8 524.0,219.8 523.8,219.8 523.6,219.8 523.5,219.8 523.3,219.8 523.2,219.7 523.0,219.7 522.8,219.7 522.7,219.7 522.5,219.7 522.4,219.7 522.2,219.7 522.1,219.7 521.9,219.7 521.8,219.7 521.6,219.7 521.4,219.7 521.3,219.7 521.1,219.7 521.0,219.7 520.8,219.7 520.7,219.7 520.5,219.7 520.4,219.7 520.2,219.7 520.0,219.7 519.9,219.7 519.7,219.8 519.6,219.8 519.4,219.8 519.3,219.8 519.1,219.8 519.0,219.8 518.8,219.8 518.7,219.8 518.5,219.8 518.4,219.8 518.2,219.8 518.1,219.8 517.9,219.8 517.8,219.8 517.6,219.8 517.5,219.8 517.3,219.9 517.2,219.9 517.0,219.9 516.9,219.9 516.7,219.9 516.6,219.9 516.4,219.9 516.3,219.9 516.1,219.9 516.0,219.9 515.8,220.0 515.7,220.0 515.5,220.0 515.4,220.0 515.2,220.0 515.1,220.0 514.9,220.0 514.8,220.1 514.6,220.1 514.5,220.1 514.4,220.1 514.2,220.1 514.1,220.1 513.9,220.1 513.8,220.2 513.6,220.2 513.5,220.2 513.3,220.2 513.2,220.2 513.1,220.3 512.9,220.3 512.8,220.3 512.6,220.3 512.5,220.3 512.3,220.4 512.2,220.4 512.0,220.4 511.9,220.4 511.8,220.4 511.6,220.5 511.5,220.5 511.3,220.5 511.2,220.5 511.1,220.6 510.9,220.6 510.8,220.6 510.6,220.6 510.5,220.7 510.4,220.7 510.2,220.7 510.1,220.7 509.9,220.8 509.8,220.8 509.7,220.8 509.5,220.9 509.4,220.9 509.2,220.9 509.1,220.9 509.0,221.0 508.8,221.0 508.7,221.0 508.6,221.1 508.4,221.1 508.3,221.1 508.1,221.2 508.0,221.2 507.9,221.2 507.7,221.3 507.6,221.3 507.5,221.3 507.3,221.4 507.2,221.4 507.1,221.4 506.9,221.5 506.8,221.5 506.7,221.5 506.5,221.6 506.4,221.6 506.3,221.7 506.1,221.7 506.0,221.7 505.9,221.8 505.7,221.8 505.6,221.9 505.5,221.9 505.3,221.9 505.2,222.0 505.1,222.0 504.9,222.1 504.8,222.1 504.7,222.2 504.5,222.2 504.4,222.2 504.3,222.3 504.2,222.3 504.0,222.4 503.9,222.4 503.8,222.5 503.6,222.5 503.5,222.6 503.4,222.6 503.3,222.7 503.1,222.7 503.0,222.8 502.9,222.8 502.7,222.9 502.6,222.9 502.5,223.0 502.4,223.0 502.2,223.1 502.1,223.1 502.0,223.2 501.9,223.2 501.7,223.3 501.6,223.3 501.5,223.4 501.4,223.4 501.2,223.5 501.1,223.6 501.0,223.6 500.9,223.7 500.7,223.7 500.6,223.8 500.5,223.8 500.4,223.9 500.2,224.0 500.1,224.0 500.0,224.1 499.9,224.1 499.8,224.2 499.6,224.3 499.5,224.3 499.4,224.4 499.3,224.5 499.2,224.5 499.0,224.6 498.9,224.7 498.8,224.7 498.7,224.8 498.6,224.9 498.4,224.9 498.3,225.0 498.2,225.1 498.1,225.1 498.0,225.2 497.8,225.3 497.7,225.3 497.6,225.4 497.5,225.5 497.4,225.6 497.3,225.6 497.1,225.7 497.0,225.8 496.9,225.8 496.8,225.9 496.7,226.0 496.6,226.1 496.5,226.2 496.3,226.2 496.2,226.3 496.1,226.4 496.0,226.5 495.9,226.5 495.8,226.6 495.7,226.7 495.6,226.8 495.4,226.9 495.3,227.0 495.2,227.0 495.1,227.1 495.0,227.2 494.9,227.3 494.8,227.4 494.7,227.5 494.6,227.5 494.4,227.6 494.3,227.7 494.2,227.8 494.1,227.9 494.0,228.0 493.9,228.1 493.8,228.2 493.7,228.3 493.6,228.4 493.5,228.5 493.4,228.5 493.3,228.6 493.2,228.7 493.1,228.8 492.9,228.9 492.8,229.0 492.7,229.1 492.6,229.2 492.5,229.3 492.4,229.4 492.3,229.5 492.2,229.6 492.1,229.7 492.0,229.8 491.9,229.9 491.8,230.0 491.7,230.1 491.6,230.2 491.5,230.4 491.4,230.5 491.3,230.6 491.2,230.7 491.1,230.8 491.0,230.9 490.9,231.0 490.8,231.1 490.7,231.2 490.6,231.3 490.5,231.5 490.4,231.6 490.3,231.7 490.2,231.8 490.1,231.9 490.0,232.0 489.9,232.2 489.8,232.3 489.7,232.4 489.6,232.5 489.5,232.6 489.5,232.8 489.4,232.9 489.3,233.0 489.2,233.1 489.1,233.3 489.0,233.4 488.9,233.5 488.8,233.6 488.7,233.8 488.6,233.9 488.5,234.0 488.4,234.2 488.4,234.3 488.3,234.4 488.2,234.6 488.1,234.7 488.0,234.8 487.9,235.0 487.8,235.1 487.7,235.2 487.6,235.4 487.6,235.5 487.5,235.7 487.4,235.8 487.3,235.9 487.2,236.1 487.1,236.2 487.0,236.4 487.0,236.5 486.9,236.7 486.8,236.8 486.7,237.0 486.6,237.1 486.6,237.3 486.5,237.4 486.4,237.6 486.3,237.7 486.2,237.9 486.1,238.0 486.1,238.2 486.0,238.4 485.9,238.5 485.8,238.7 485.8,238.8 485.7,239.0 485.6,239.2 485.5,239.3 485.4,239.5 485.4,239.7 485.3,239.8 485.2,240.0 485.1,240.2 485.1,240.4 485.0,240.5 484.9,240.7 484.9,240.9 484.8,241.1 484.7,241.2 484.6,241.4 484.6,241.6 484.5,241.8 484.4,242.0 484.4,242.1 484.3,242.3 484.2,242.5 484.2,242.7 484.1,242.9 484.0,243.1 484.0,243.3 483.9,243.5 483.8,243.6 483.8,243.8 483.7,244.0 483.6,244.2 483.6,244.4 483.5,244.6 483.5,244.8 483.4,245.0 483.3,245.2 483.3,245.4 483.2,245.7 483.2,245.9 483.1,246.1 483.0,246.3 483.0,246.5 482.9,246.7 482.9,246.9 482.8,247.1 482.8,247.4 482.7,247.6 482.6,247.8 482.6,248.0 482.5,248.2 482.5,248.5 482.4,248.7 482.4,248.9 482.3,249.2 482.3,249.4 482.2,249.6 482.2,249.9 482.1,250.1 482.1,250.3 482.1,250.6 482.0,250.8 482.0,251.1 481.9,251.3 481.9,251.6 481.8,251.8 481.8,252.1 481.8,252.3 481.7,252.6 481.7,252.8 481.6,253.1 481.6,253.3 481.6,253.6 481.5,253.9 481.5,254.1 481.5,254.4 481.4,254.7 481.4,255.0 481.4,255.2 481.3,255.5 481.3,255.8 481.3,256.1 481.2,256.3 481.2,256.6 481.2,256.9 481.1,257.2 481.1,257.5 481.1,257.8 481.1,258.1 481.0,258.4 481.0,258.7 481.0,259.0 481.0,259.3 481.0,259.6 480.9,259.9 480.9,260.2 480.9,260.5 480.9,260.9 480.9,261.2 480.9,261.5" fill="none" stroke="#30d858" stroke-width="1.15"/>
<polyline points="550.7,215.3 550.5,215.3 550.3,215.2 550.1,215.2 549.9,215.1 549.7,215.1 549.5,215.0 549.3,214.9 549.1,214.9 548.9,214.8 548.7,214.8 548.5,214.7 548.3,214.7 548.1,214.6 547.9,214.5 547.7,214.5 547.5,214.4 547.4,214.4 547.2,214.3 547.0,214.3 546.8,214.2 546.6,214.2 546.4,214.1 546.2,214.1 546.0,214.0 545.8,213.9 545.6,213.9 545.4,213.8 545.2,213.8 545.1,213.7 544.9,213.7 544.7,213.6 544.5,213.6 544.3,213.5 544.1,213.5 543.9,213.4 543.7,213.4 543.5,213.3 543.4,213.3 543.2,213.2 543.0,213.2 542.8,213.1 542.6,213.1 542.4,213.0 542.2,213.0 542.0,212.9 541.9,212.9 541.7,212.8 541.5,212.8 541.3,212.7 541.1,212.7 540.9,212.6 540.7,212.6 540.6,212.5 540.4,212.5 540.2,212.5 540.0,212.4 539.8,212.4 539.6,212.3 539.4,212.3 539.3,212.2 539.1,212.2 538.9,212.1 538.7,212.1 538.5,212.1 538.3,212.0 538.2,212.0 538.0,211.9 537.8,211.9 537.6,211.8 537.4,211.8 537.3,211.7 537.1,211.7 536.9,211.7 536.7,211.6 536.5,211.6 536.3,211.5 536.2,211.5 536.0,211.5 535.8,211.4 535.6,211.4 535.4,211.3 535.3,211.3 535.1,211.3 534.9,211.2 534.7,211.2 534.6,211.1 534.4,211.1 534.2,211.1 534.0,211.0 533.8,211.0 533.7,211.0 533.5,210.9 533.3,210.9 533.1,210.8 533.0,210.8 532.8,210.8 532.6,210.7 532.4,210.7 532.2,210.7 532.1,210.6 531.9,210.6 531.7,210.6 531.5,210.5 531.4,210.5 531.2,210.5 531.0,210.4 530.8,210.4 530.7,210.4 530.5,210.3 530.3,210.3 530.1,210.3 530.0,210.2 529.8,210.2 529.6,210.2 529.5,210.1 529.3,210.1 529.1,210.1 528.9,210.0 528.8,210.0 528.6,210.0 528.4,209.9 528.2,209.9 528.1,209.9 527.9,209.9 527.7,209.8 527.6,209.8 527.4,209.8 527.2,209.7 527.0,209.7 526.9,209.7 526.7,209.7 526.5,209.6 526.4,209.6 526.2,209.6 526.0,209.5 525.9,209.5 525.7,209.5 525.5,209.5 525.4,209.4 525.2,209.4 525.0,209.4 524.8,209.4 524.7,209.3 524.5,209.3 524.3,209.3 524.2,209.3 524.0,209.2 523.8,209.2 523.7,209.2 523.5,209.2 523.3,209.2 523.2,209.1 523.0,209.1 522.8,209.1 522.7,209.1 522.5,209.0 522.3,209.0 522.2,209.0 522.0,209.0 521.9,209.0 521.7,208.9 521.5,208.9 521.4,208.9 521.2,208.9 521.0,208.9 520.9,208.8 520.7,208.8 520.5,208.8 520.4,208.8 520.2,208.8 520.1,208.8 519.9,208.7 519.7,208.7 519.6,208.7 519.4,208.7 519.2,208.7 519.1,208.7 518.9,208.6 518.8,208.6 518.6,208.6 518.4,208.6 518.3,208.6 518.1,208.6 518.0,208.6 517.8,208.5 517.6,208.5 517.5,208.5 517.3,208.5 517.2,208.5 517.0,208.5 516.8,208.5 516.7,208.5 516.5,208.4 516.4,208.4 516.2,208.4 516.0,208.4 515.9,208.4 515.7,208.4 515.6,208.4 515.4,208.4 515.3,208.4 515.1,208.4 514.9,208.3 514.8,208.3 514.6,208.3 514.5,208.3 514.3,208.3 514.2,208.3 514.0,208.3 513.9,208.3 513.7,208.3 513.5,208.3 513.4,208.3 513.2,208.3 513.1,208.3 512.9,208.3 512.8,208.3 512.6,208.2 512.5,208.2 512.3,208.2 512.2,208.2 512.0,208.2 511.8,208.2 511.7,208.2 511.5,208.2 511.4,208.2 511.2,208.2 511.1,208.2 510.9,208.2 510.8,208.2 510.6,208.2 510.5,208.2 510.3,208.2 510.2,208.2 510.0,208.2 509.9,208.2 509.7,208.2 509.6,208.2 509.4,208.2 509.3,208.2 509.1,208.2 509.0,208.2 508.8,208.2 508.7,208.2 508.5,208.2 508.4,208.2 508.2,208.2 508.1,208.2 507.9,208.3 507.8,208.3 507.6,208.3 507.5,208.3 507.3,208.3 507.2,208.3 507.0,208.3 506.9,208.3 506.8,208.3 506.6,208.3 506.5,208.3 506.3,208.3 506.2,208.3 506.0,208.3 505.9,208.4 505.7,208.4 505.6,208.4 505.4,208.4 505.3,208.4 505.1,208.4 505.0,208.4 504.9,208.4 504.7,208.4 504.6,208.4 504.4,208.5 504.3,208.5 504.1,208.5 504.0,208.5 503.9,208.5 503.7,208.5 503.6,208.5 503.4,208.6 503.3,208.6 503.1,208.6 503.0,208.6 502.9,208.6 502.7,208.6 502.6,208.6 502.4,208.7 502.3,208.7 502.2,208.7 502.0,208.7 501.9,208.7 501.7,208.8 501.6,208.8 501.4,208.8 501.3,208.8 501.2,208.8 501.0,208.8 500.9,208.9 500.8,208.9 500.6,208.9 500.5,208.9 500.3,209.0 500.2,209.0 500.1,209.0 499.9,209.0 499.8,209.0 499.6,209.1 499.5,209.1 499.4,209.1 499.2,209.1 499.1,209.2 499.0,209.2 498.8,209.2 498.7,209.2 498.6,209.3 498.4,209.3 498.3,209.3 498.1,209.3 498.0,209.4 497.9,209.4 497.7,209.4 497.6,209.5 497.5,209.5 497.3,209.5 497.2,209.5 497.1,209.6 496.9,209.6 496.8,209.6 496.7,209.7 496.5,209.7 496.4,209.7 496.3,209.8 496.1,209.8 496.0,209.8 495.9,209.9 495.7,209.9 495.6,209.9 495.5,210.0 495.4,210.0 495.2,210.0 495.1,210.1 495.0,210.1 494.8,210.2 494.7,210.2 494.6,210.2 494.4,210.3 494.3,210.3 494.2,210.3 494.1,210.4 493.9,210.4 493.8,210.5 493.7,210.5 493.5,210.5 493.4,210.6 493.3,210.6 493.2,210.7 493.0,210.7 492.9,210.8 492.8,210.8 492.6,210.8 492.5,210.9 492.4,210.9 492.3,211.0 492.1,211.0 492.0,211.1 491.9,211.1 491.8,211.2 491.6,211.2 491.5,211.2 491.4,211.3 491.3,211.3 491.1,211.4 491.0,211.4 490.9,211.5 490.8,211.5 490.6,211.6 490.5,211.6 490.4,211.7 490.3,211.7 490.1,211.8 490.0,211.8 489.9,211.9 489.8,212.0 489.7,212.0 489.5,212.1 489.4,212.1 489.3,212.2 489.2,212.2 489.1,212.3 488.9,212.3 488.8,212.4 488.7,212.5 488.6,212.5 488.5,212.6 488.3,212.6 488.2,212.7 488.1,212.7 488.0,212.8 487.9,212.9 487.7,212.9 487.6,213.0 487.5,213.1 487.4,213.1 487.3,213.2 487.1,213.2 487.0,213.3 486.9,213.4 486.8,213.4 486.7,213.5 486.6,213.6 486.4,213.6 486.3,213.7 486.2,213.8 486.1,213.8 486.0,213.9 485.9,214.0 485.8,214.0 485.6,214.1 485.5,214.2 485.4,214.3 485.3,214.3 485.2,214.4 485.1,214.5 485.0,214.5 484.8,214.6 484.7,214.7 484.6,214.8 484.5,214.8 484.4,214.9 484.3,215.0 484.2,215.1 484.1,215.1 484.0,215.2 483.8,215.3 483.7,215.4 483.6,215.5 483.5,215.5 483.4,215.6 483.3,215.7 483.2,215.8 483.1,215.9 483.0,216.0 482.9,216.0 482.8,216.1 482.6,216.2 482.5,216.3 482.4,216.4 482.3,216.5 482.2,216.5 482.1,216.6 482.0,216.7 481.9,216.8 481.8,216.9 481.7,217.0 481.6,217.1 481.5,217.2 481.4,217.3 481.3,217.4 481.2,217.4 481.1,217.5 481.0,217.6 480.8,217.7 480.7,217.8 480.6,217.9 480.5,218.0 480.4,218.1 480.3,218.2 480.2,218.3 480.1,218.4 480.0,218.5 479.9,218.6 479.8,218.7 479.7,218.8 479.6,218.9 479.5,219.0 479.4,219.1 479.3,219.2 479.2,219.3 479.1,219.4 479.0,219.5 478.9,219.7 478.8,219.8 478.7,219.9 478.6,220.0 478.5,220.1 478.4,220.2 478.3,220.3 478.3,220.4 478.2,220.5 478.1,220.7 478.0,220.8 477.9,220.9 477.8,221.0 477.7,221.1 477.6,221.2 477.5,221.3 477.4,221.5 477.3,221.6 477.2,221.7 477.1,221.8 477.0,221.9 476.9,222.1 476.8,222.2 476.8,222.3 476.7,222.4 476.6,222.6 476.5,222.7 476.4,222.8 476.3,223.0 476.2,223.1 476.1,223.2 476.0,223.3 475.9,223.5 475.9,223.6 475.8,223.7 475.7,223.9 475.6,224.0 475.5,224.1 475.4,224.3 475.3,224.4 475.3,224.6 475.2,224.7 475.1,224.8 475.0,225.0 474.9,225.1 474.8,225.3 474.7,225.4 474.7,225.5 474.6,225.7 474.5,225.8 474.4,226.0 474.3,226.1 474.3,226.3 474.2,226.4 474.1,226.6 474.0,226.7 473.9,226.9 473.9,227.0 473.8,227.2 473.7,227.4 473.6,227.5 473.5,227.7 473.5,227.8 473.4,228.0 473.3,228.1 473.2,228.3 473.2,228.5 473.1,228.6 473.0,228.8 472.9,229.0 472.9,229.1 472.8,229.3 472.7,229.5 472.6,229.6 472.6,229.8 472.5,230.0 472.4,230.2 472.3,230.3 472.3,230.5 472.2,230.7 472.1,230.9 472.1,231.0 472.0,231.2 471.9,231.4 471.9,231.6 471.8,231.8 471.7,232.0 471.7,232.1 471.6,232.3 471.5,232.5 471.5,232.7 471.4,232.9 471.3,233.1 471.3,233.3 471.2,233.5 471.1,233.7 471.1,233.9 471.0,234.1 470.9,234.3 470.9,234.5 470.8,234.7 470.8,234.9 470.7,235.1 470.6,235.3 470.6,235.5 470.5,235.7 470.5,235.9 470.4,236.1 470.4,236.3 470.3,236.6 470.3,236.8 470.2,237.0 470.1,237.2 470.1,237.4 470.0,237.7 470.0,237.9 469.9,238.1 469.9,238.3 469.8,238.6 469.8,238.8" fill="none" stroke="#a0e030" stroke-width="1.15"/>
<polyline points="543.7,205.6 543.5,205.5 543.3,205.5 543.1,205.4 542.9,205.4 542.7,205.3 542.5,205.3 542.3,205.2 542.2,205.1 542.0,205.1 541.8,205.0 541.6,205.0 541.4,204.9 541.2,204.8 541.0,204.8 540.8,204.7 540.6,204.7 540.4,204.6 540.2,204.6 540.1,204.5 539.9,204.5 539.7,204.4 539.5,204.3 539.3,204.3 539.1,204.2 538.9,204.2 538.7,204.1 538.6,204.1 538.4,204.0 538.2,204.0 538.0,203.9 537.8,203.9 537.6,203.8 537.4,203.8 537.2,203.7 537.1,203.7 536.9,203.6 536.7,203.5 536.5,203.5 536.3,203.4 536.1,203.4 535.9,203.3 535.8,203.3 535.6,203.2 535.4,203.2 535.2,203.1 535.0,203.1 534.8,203.0 534.7,203.0 534.5,202.9 534.3,202.9 534.1,202.8 533.9,202.8 533.7,202.8 533.6,202.7 533.4,202.7 533.2,202.6 533.0,202.6 532.8,202.5 532.7,202.5 532.5,202.4 532.3,202.4 532.1,202.3 531.9,202.3 531.7,202.2 531.6,202.2 531.4,202.1 531.2,202.1 531.0,202.1 530.8,202.0 530.7,202.0 530.5,201.9 530.3,201.9 530.1,201.8 530.0,201.8 529.8,201.7 529.6,201.7 529.4,201.7 529.2,201.6 529.1,201.6 528.9,201.5 528.7,201.5 528.5,201.5 528.3,201.4 528.2,201.4 528.0,201.3 527.8,201.3 527.6,201.2 527.5,201.2 527.3,201.2 527.1,201.1 526.9,201.1 526.8,201.0 526.6,201.0 526.4,201.0 526.2,200.9 526.1,200.9 525.9,200.8 525.7,200.8 525.5,200.8 525.4,200.7 525.2,200.7 525.0,200.7" fill="none" stroke="#f0b028" stroke-width="1.15"/>
<polyline points="461.0,220.2 460.9,220.4 460.9,220.6" fill="none" stroke="#f0b028" stroke-width="1.15"/>
<g stroke-linejoin="round" stroke-width="0.4">
<polygon points="541.1,193.3 539.3,191.9 535.6,193.9 537.4,195.3" fill="#ba5500" stroke="#ba5500"/>
<polygon points="539.3,191.9 537.5,190.6 533.8,192.5 535.6,193.9" fill="#a56200" stroke="#a56200"/>
<polygon points="537.5,190.6 535.7,189.3 532.0,191.2 533.8,192.5" fill="#916f00" stroke="#916f00"/>
<polygon points="535.7,189.3 533.9,188.2 530.2,190.0 532.0,191.2" fill="#837600" stroke="#837600"/>
<polygon points="533.9,188.2 532.0,187.1 528.4,188.9 530.2,190.0" fill="#777c00" stroke="#777c00"/>
<polygon points="532.0,187.1 530.2,186.1 526.6,187.8 528.4,188.9" fill="#6c8100" stroke="#6c8100"/>
<polygon points="530.2,186.1 528.3,185.2 524.7,186.9 526.6,187.8" fill="#5f8302" stroke="#5f8302"/>
<polygon points="545.0,191.3 543.2,190.0 539.3,191.9 541.1,193.3" fill="#797b00" stroke="#797b00"/>
<polygon points="528.3,185.2 526.4,184.4 522.9,186.0 524.7,186.9" fill="#528505" stroke="#528505"/>
<polygon points="543.2,190.0 541.3,188.7 537.5,190.6 539.3,191.9" fill="#6c8100" stroke="#6c8100"/>
<polygon points="526.4,184.4 524.5,183.7 521.0,185.2 522.9,186.0" fill="#458609" stroke="#458609"/>
<polygon points="541.3,188.7 539.5,187.5 535.7,189.3 537.5,190.6" fill="#5c8403" stroke="#5c8403"/>
<polygon points="524.5,183.7 522.6,183.0 519.1,184.5 521.0,185.2" fill="#39870c" stroke="#39870c"/>
<polygon points="539.5,187.5 537.6,186.4 533.9,188.2 535.7,189.3" fill="#4c8507" stroke="#4c8507"/>
<polygon points="522.6,183.0 520.7,182.5 517.3,183.9 519.1,184.5" fill="#2e880e" stroke="#2e880e"/>
<polygon points="520.7,182.5 518.8,182.0 515.4,183.4 517.3,183.9" fill="#248911" stroke="#248911"/>
<polygon points="537.6,186.4 535.7,185.4 532.0,187.1 533.9,188.2" fill="#3d860b" stroke="#3d860b"/>
<polygon points="518.8,182.0 516.9,181.6 513.5,183.0 515.4,183.4" fill="#1b8a13" stroke="#1b8a13"/>
<polygon points="535.7,185.4 533.9,184.4 530.2,186.1 532.0,187.1" fill="#2f880e" stroke="#2f880e"/>
<polygon points="516.9,181.6 515.0,181.4 511.6,182.6 513.5,183.0" fill="#168a16" stroke="#168a16"/>
<polygon points="533.9,184.4 532.0,183.6 528.3,185.2 530.2,186.1" fill="#218912" stroke="#218912"/>
<polygon points="515.0,181.4 513.0,181.2 509.7,182.4 511.6,182.6" fill="#148919" stroke="#148919"/>
<polygon points="549.0,189.4 547.1,188.1 543.2,190.0 545.0,191.3" fill="#3e860a" stroke="#3e860a"/>
<polygon points="532.0,183.6 530.1,182.8 526.4,184.4 528.3,185.2" fill="#168a15" stroke="#168a15"/>
<polygon points="513.0,181.2 511.1,181.1 507.8,182.2 509.7,182.4" fill="#12891c" stroke="#12891c"/>
<polygon points="547.1,188.1 545.3,186.9 541.3,188.7 543.2,190.0" fill="#2d880f" stroke="#2d880f"/>
<polygon points="511.1,181.1 509.2,181.1 505.8,182.1 507.8,182.2" fill="#11881e" stroke="#11881e"/>
<polygon points="530.1,182.8 528.2,182.2 524.5,183.7 526.4,184.4" fill="#13891a" stroke="#13891a"/>
<polygon points="509.2,181.1 507.2,181.2 503.9,182.1 505.8,182.1" fill="#108820" stroke="#108820"/>
<polygon points="545.3,186.9 543.4,185.8 539.5,187.5 541.3,188.7" fill="#1d8913" stroke="#1d8913"/>
<polygon points="528.2,182.2 526.2,181.6 522.6,183.0 524.5,183.7" fill="#11881e" stroke="#11881e"/>
<polygon points="507.2,181.2 505.2,181.4 502.0,182.3 503.9,182.1" fill="#0f8721" stroke="#0f8721"/>
<polygon points="543.4,185.8 541.5,184.7 537.6,186.4 539.5,187.5" fill="#158918" stroke="#158918"/>
<polygon points="526.2,181.6 524.3,181.1 520.7,182.5 522.6,183.0" fill="#0e8722" stroke="#0e8722"/>
<polygon points="505.2,181.4 503.3,181.7 500.0,182.5 502.0,182.3" fill="#0e8723" stroke="#0e8723"/>
<polygon points="503.3,181.7 501.3,182.0 498.1,182.8 500.0,182.5" fill="#0d8724" stroke="#0d8724"/>
<polygon points="524.3,181.1 522.4,180.7 518.8,182.0 520.7,182.5" fill="#0c8626" stroke="#0c8626"/>
<polygon points="541.5,184.7 539.6,183.7 535.7,185.4 537.6,186.4" fill="#11881e" stroke="#11881e"/>
<polygon points="501.3,182.0 499.3,182.5 496.1,183.1 498.1,182.8" fill="#0d8724" stroke="#0d8724"/>
<polygon points="522.4,180.7 520.4,180.4 516.9,181.6 518.8,182.0" fill="#0a8629" stroke="#0a8629"/>
<polygon points="499.3,182.5 497.3,183.1 494.2,183.6 496.1,183.1" fill="#0d8725" stroke="#0d8725"/>
<polygon points="539.6,183.7 537.7,182.9 533.9,184.4 535.7,185.4" fill="#0e8723" stroke="#0e8723"/>
<polygon points="497.3,183.1 495.4,183.7 492.2,184.2 494.2,183.6" fill="#0d8725" stroke="#0d8725"/>
<polygon points="520.4,180.4 518.5,180.2 515.0,181.4 516.9,181.6" fill="#08852d" stroke="#08852d"/>
<polygon points="495.4,183.7 493.4,184.5 490.3,184.9 492.2,184.2" fill="#0d8724" stroke="#0d8724"/>
<polygon points="537.7,182.9 535.8,182.1 532.0,183.6 533.9,184.4" fill="#0a8628" stroke="#0a8628"/>
<polygon points="493.4,184.5 491.4,185.3 488.3,185.6 490.3,184.9" fill="#0d8724" stroke="#0d8724"/>
<polygon points="518.5,180.2 516.5,180.1 513.0,181.2 515.0,181.4" fill="#06852f" stroke="#06852f"/>
<polygon points="553.1,187.6 551.2,186.4 547.1,188.1 549.0,189.4" fill="#11881e" stroke="#11881e"/>
<polygon points="491.4,185.3 489.4,186.3 486.3,186.5 488.3,185.6" fill="#0e8723" stroke="#0e8723"/>
<polygon points="516.5,180.1 514.6,180.1 511.1,181.1 513.0,181.2" fill="#058432" stroke="#058432"/>
<polygon points="535.8,182.1 533.9,181.4 530.1,182.8 532.0,183.6" fill="#08852d" stroke="#08852d"/>
<polygon points="489.4,186.3 487.3,187.3 484.3,187.4 486.3,186.5" fill="#0f8721" stroke="#0f8721"/>
<polygon points="487.3,187.3 485.3,188.5 482.3,188.5 484.3,187.4" fill="#108820" stroke="#108820"/>
<polygon points="551.2,186.4 549.3,185.2 545.3,186.9 547.1,188.1" fill="#0d8724" stroke="#0d8724"/>
<polygon points="514.6,180.1 512.6,180.2 509.2,181.1 511.1,181.1" fill="#038434" stroke="#038434"/>
<polygon points="485.3,188.5 483.3,189.7 480.4,189.6 482.3,188.5" fill="#11881e" stroke="#11881e"/>
<polygon points="533.9,181.4 531.9,180.8 528.2,182.2 530.1,182.8" fill="#058431" stroke="#058431"/>
<polygon points="483.3,189.7 481.3,191.1 478.4,190.9 480.4,189.6" fill="#13891b" stroke="#13891b"/>
<polygon points="481.3,191.1 479.3,192.5 476.4,192.2 478.4,190.9" fill="#148918" stroke="#148918"/>
<polygon points="512.6,180.2 510.6,180.3 507.2,181.2 509.2,181.1" fill="#028335" stroke="#028335"/>
<polygon points="479.3,192.5 477.3,194.0 474.4,193.6 476.4,192.2" fill="#168a15" stroke="#168a15"/>
<polygon points="549.3,185.2 547.4,184.1 543.4,185.8 545.3,186.9" fill="#09862a" stroke="#09862a"/>
<polygon points="465.1,207.4 463.1,210.3 460.4,209.8 462.4,206.8" fill="#757c00" stroke="#757c00"/>
<polygon points="531.9,180.8 530.0,180.3 526.2,181.6 528.2,182.2" fill="#028336" stroke="#028336"/>
<polygon points="477.3,194.0 475.2,195.7 472.4,195.2 474.4,193.6" fill="#1d8913" stroke="#1d8913"/>
<polygon points="467.1,204.7 465.1,207.4 462.4,206.8 464.4,204.1" fill="#668300" stroke="#668300"/>
<polygon points="475.2,195.7 473.2,197.6 470.4,197.0 472.4,195.2" fill="#268910" stroke="#268910"/>
<polygon points="469.2,202.1 467.1,204.7 464.4,204.1 466.4,201.5" fill="#538405" stroke="#538405"/>
<polygon points="510.6,180.3 508.6,180.6 505.2,181.4 507.2,181.2" fill="#018337" stroke="#018337"/>
<polygon points="473.2,197.6 471.2,199.8 468.4,199.2 470.4,197.0" fill="#33870d" stroke="#33870d"/>
<polygon points="471.2,199.8 469.2,202.1 466.4,201.5 468.4,199.2" fill="#428609" stroke="#428609"/>
<polygon points="508.6,180.6 506.6,181.0 503.3,181.7 505.2,181.4" fill="#018338" stroke="#018338"/>
<polygon points="547.4,184.1 545.5,183.1 541.5,184.7 543.4,185.8" fill="#058430" stroke="#058430"/>
<polygon points="530.0,180.3 528.0,179.9 524.3,181.1 526.2,181.6" fill="#008339" stroke="#008339"/>
<polygon points="506.6,181.0 504.6,181.4 501.3,182.0 503.3,181.7" fill="#008339" stroke="#008339"/>
<polygon points="528.0,179.9 526.1,179.5 522.4,180.7 524.3,181.1" fill="#00823e" stroke="#00823e"/>
<polygon points="545.5,183.1 543.6,182.2 539.6,183.7 541.5,184.7" fill="#028336" stroke="#028336"/>
<polygon points="504.6,181.4 502.6,182.0 499.3,182.5 501.3,182.0" fill="#008339" stroke="#008339"/>
<polygon points="526.1,179.5 524.1,179.3 520.4,180.4 522.4,180.7" fill="#008142" stroke="#008142"/>
<polygon points="502.6,182.0 500.6,182.6 497.3,183.1 499.3,182.5" fill="#008339" stroke="#008339"/>
<polygon points="543.6,182.2 541.7,181.4 537.7,182.9 539.6,183.7" fill="#00823c" stroke="#00823c"/>
<polygon points="500.6,182.6 498.6,183.4 495.4,183.7 497.3,183.1" fill="#008339" stroke="#008339"/>
<polygon points="524.1,179.3 522.1,179.2 518.5,180.2 520.4,180.4" fill="#008046" stroke="#008046"/>
<polygon points="498.6,183.4 496.6,184.2 493.4,184.5 495.4,183.7" fill="#018338" stroke="#018338"/>
<polygon points="541.7,181.4 539.7,180.7 535.8,182.1 537.7,182.9" fill="#008142" stroke="#008142"/>
<polygon points="496.6,184.2 494.5,185.2 491.4,185.3 493.4,184.5" fill="#018337" stroke="#018337"/>
<polygon points="522.1,179.2 520.1,179.2 516.5,180.1 518.5,180.2" fill="#007f49" stroke="#007f49"/>
<polygon points="557.4,185.9 555.5,184.7 551.2,186.4 553.1,187.6" fill="#028336" stroke="#028336"/>
<polygon points="494.5,185.2 492.5,186.2 489.4,186.3 491.4,185.3" fill="#028336" stroke="#028336"/>
<polygon points="492.5,186.2 490.5,187.4 487.3,187.3 489.4,186.3" fill="#038434" stroke="#038434"/>
<polygon points="520.1,179.2 518.1,179.2 514.6,180.1 516.5,180.1" fill="#007f4c" stroke="#007f4c"/>
<polygon points="539.7,180.7 537.8,180.0 533.9,181.4 535.8,182.1" fill="#008048" stroke="#008048"/>
<polygon points="490.5,187.4 488.4,188.6 485.3,188.5 487.3,187.3" fill="#048432" stroke="#048432"/>
<polygon points="555.5,184.7 553.5,183.6 549.3,185.2 551.2,186.4" fill="#00823e" stroke="#00823e"/>
<polygon points="488.4,188.6 486.4,190.0 483.3,189.7 485.3,188.5" fill="#068430" stroke="#068430"/>
<polygon points="518.1,179.2 516.1,179.4 512.6,180.2 514.6,180.1" fill="#007e4f" stroke="#007e4f"/>
<polygon points="537.8,180.0 535.8,179.5 531.9,180.8 533.9,181.4" fill="#007f4e" stroke="#007f4e"/>
<polygon points="486.4,190.0 484.3,191.4 481.3,191.1 483.3,189.7" fill="#07852d" stroke="#07852d"/>
<polygon points="484.3,191.4 482.3,193.0 479.3,192.5 481.3,191.1" fill="#09862a" stroke="#09862a"/>
<polygon points="516.1,179.4 514.1,179.6 510.6,180.3 512.6,180.2" fill="#007e50" stroke="#007e50"/>
<polygon points="482.3,193.0 480.2,194.6 477.3,194.0 479.3,192.5" fill="#0b8627" stroke="#0b8627"/>
<polygon points="553.5,183.6 551.6,182.6 547.4,184.1 549.3,185.2" fill="#008046" stroke="#008046"/>
<polygon points="467.9,208.2 465.9,211.1 463.1,210.3 465.1,207.4" fill="#4e8506" stroke="#4e8506"/>
<polygon points="480.2,194.6 478.2,196.3 475.2,195.7 477.3,194.0" fill="#0e8723" stroke="#0e8723"/>
<polygon points="470.0,205.5 467.9,208.2 465.1,207.4 467.1,204.7" fill="#3a870b" stroke="#3a870b"/>
<polygon points="535.8,179.5 533.9,179.1 530.0,180.3 531.9,180.8" fill="#007e53" stroke="#007e53"/>
<polygon points="478.2,196.3 476.1,198.3 473.2,197.6 475.2,195.7" fill="#10881f" stroke="#10881f"/>
<polygon points="472.0,202.9 470.0,205.5 467.1,204.7 469.2,202.1" fill="#298810" stroke="#298810"/>
<polygon points="476.1,198.3 474.1,200.5 471.2,199.8 473.2,197.6" fill="#14891a" stroke="#14891a"/>
<polygon points="474.1,200.5 472.0,202.9 469.2,202.1 471.2,199.8" fill="#188a14" stroke="#188a14"/>
<polygon points="514.1,179.6 512.1,180.0 508.6,180.6 510.6,180.3" fill="#007e52" stroke="#007e52"/>
<polygon points="512.1,180.0 510.1,180.4 506.6,181.0 508.6,180.6" fill="#007e53" stroke="#007e53"/>
<polygon points="533.9,179.1 531.9,178.7 528.0,179.9 530.0,180.3" fill="#007d58" stroke="#007d58"/>
<polygon points="551.6,182.6 549.7,181.6 545.5,183.1 547.4,184.1" fill="#007f4d" stroke="#007f4d"/>
<polygon points="510.1,180.4 508.1,181.0 504.6,181.4 506.6,181.0" fill="#007d54" stroke="#007d54"/>
<polygon points="531.9,178.7 529.9,178.5 526.1,179.5 528.0,179.9" fill="#007b5c" stroke="#007b5c"/>
<polygon points="549.7,181.6 547.7,180.8 543.6,182.2 545.5,183.1" fill="#007d54" stroke="#007d54"/>
<polygon points="508.1,181.0 506.0,181.6 502.6,182.0 504.6,181.4" fill="#007d54" stroke="#007d54"/>
<polygon points="506.0,181.6 504.0,182.4 500.6,182.6 502.6,182.0" fill="#007e53" stroke="#007e53"/>
<polygon points="529.9,178.5 527.9,178.3 524.1,179.3 526.1,179.5" fill="#007a60" stroke="#007a60"/>
<polygon points="547.7,180.8 545.8,180.0 541.7,181.4 543.6,182.2" fill="#007c5b" stroke="#007c5b"/>
<polygon points="504.0,182.4 501.9,183.2 498.6,183.4 500.6,182.6" fill="#007e53" stroke="#007e53"/>
<polygon points="527.9,178.3 525.9,178.3 522.1,179.2 524.1,179.3" fill="#007863" stroke="#007863"/>
<polygon points="501.9,183.2 499.9,184.1 496.6,184.2 498.6,183.4" fill="#007e51" stroke="#007e51"/>
<polygon points="545.8,180.0 543.8,179.4 539.7,180.7 541.7,181.4" fill="#007961" stroke="#007961"/>
<polygon points="499.9,184.1 497.8,185.2 494.5,185.2 496.6,184.2" fill="#007e50" stroke="#007e50"/>
<polygon points="525.9,178.3 523.9,178.3 520.1,179.2 522.1,179.2" fill="#007766" stroke="#007766"/>
<polygon points="561.8,184.3 559.8,183.1 555.5,184.7 557.4,185.9" fill="#007d56" stroke="#007d56"/>
<polygon points="497.8,185.2 495.8,186.3 492.5,186.2 494.5,185.2" fill="#007f4e" stroke="#007f4e"/>
<polygon points="495.8,186.3 493.7,187.6 490.5,187.4 492.5,186.2" fill="#007f4b" stroke="#007f4b"/>
<polygon points="523.9,178.3 521.8,178.5 518.1,179.2 520.1,179.2" fill="#007668" stroke="#007668"/>
<polygon points="543.8,179.4 541.8,178.8 537.8,180.0 539.7,180.7" fill="#007667" stroke="#007667"/>
<polygon points="493.7,187.6 491.6,188.9 488.4,188.6 490.5,187.4" fill="#008048" stroke="#008048"/>
<polygon points="559.8,183.1 557.9,182.1 553.5,183.6 555.5,184.7" fill="#007a5e" stroke="#007a5e"/>
<polygon points="491.6,188.9 489.6,190.4 486.4,190.0 488.4,188.6" fill="#008044" stroke="#008044"/>
<polygon points="521.8,178.5 519.8,178.7 516.1,179.4 518.1,179.2" fill="#00756a" stroke="#00756a"/>
<polygon points="489.6,190.4 487.5,191.9 484.3,191.4 486.4,190.0" fill="#008140" stroke="#008140"/>
<polygon points="541.8,178.8 539.8,178.3 535.8,179.5 537.8,180.0" fill="#00746c" stroke="#00746c"/>
<polygon points="487.5,191.9 485.4,193.6 482.3,193.0 484.3,191.4" fill="#00823c" stroke="#00823c"/>
<polygon points="519.8,178.7 517.8,179.0 514.1,179.6 516.1,179.4" fill="#00746c" stroke="#00746c"/>
<polygon points="485.4,193.6 483.3,195.3 480.2,194.6 482.3,193.0" fill="#018338" stroke="#018338"/>
<polygon points="483.3,195.3 481.2,197.2 478.2,196.3 480.2,194.6" fill="#038434" stroke="#038434"/>
<polygon points="470.8,209.3 468.7,212.1 465.9,211.1 467.9,208.2" fill="#248911" stroke="#248911"/>
<polygon points="557.9,182.1 556.0,181.1 551.6,182.6 553.5,183.6" fill="#007765" stroke="#007765"/>
<polygon points="481.2,197.2 479.1,199.2 476.1,198.3 478.2,196.3" fill="#06852f" stroke="#06852f"/>
<polygon points="472.9,206.5 470.8,209.3 467.9,208.2 470.0,205.5" fill="#168a17" stroke="#168a17"/>
<polygon points="479.1,199.2 477.1,201.5 474.1,200.5 476.1,198.3" fill="#09862a" stroke="#09862a"/>
<polygon points="475.0,203.9 472.9,206.5 470.0,205.5 472.0,202.9" fill="#11881e" stroke="#11881e"/>
<polygon points="477.1,201.5 475.0,203.9 472.0,202.9 474.1,200.5" fill="#0d8724" stroke="#0d8724"/>
<polygon points="539.8,178.3 537.9,178.0 533.9,179.1 535.8,179.5" fill="#007270" stroke="#007270"/>
<polygon points="517.8,179.0 515.7,179.5 512.1,180.0 514.1,179.6" fill="#00736d" stroke="#00736d"/>
<polygon points="515.7,179.5 513.7,180.0 510.1,180.4 512.1,180.0" fill="#00736d" stroke="#00736d"/>
<polygon points="537.9,178.0 535.8,177.7 531.9,178.7 533.9,179.1" fill="#007075" stroke="#007075"/>
<polygon points="556.0,181.1 554.0,180.2 549.7,181.6 551.6,182.6" fill="#00746c" stroke="#00746c"/>
<polygon points="513.7,180.0 511.6,180.6 508.1,181.0 510.1,180.4" fill="#00736e" stroke="#00736e"/>
<polygon points="535.8,177.7 533.8,177.5 529.9,178.5 531.9,178.7" fill="#006e78" stroke="#006e78"/>
<polygon points="554.0,180.2 552.0,179.4 547.7,180.8 549.7,181.6" fill="#007073" stroke="#007073"/>
<polygon points="511.6,180.6 509.6,181.4 506.0,181.6 508.1,181.0" fill="#00736d" stroke="#00736d"/>
<polygon points="509.6,181.4 507.5,182.2 504.0,182.4 506.0,181.6" fill="#00736d" stroke="#00736d"/>
<polygon points="533.8,177.5 531.8,177.5 527.9,178.3 529.9,178.5" fill="#006c7c" stroke="#006c7c"/>
<polygon points="552.0,179.4 550.0,178.8 545.8,180.0 547.7,180.8" fill="#006e79" stroke="#006e79"/>
<polygon points="507.5,182.2 505.4,183.2 501.9,183.2 504.0,182.4" fill="#00746c" stroke="#00746c"/>
<polygon points="531.8,177.5 529.8,177.5 525.9,178.3 527.9,178.3" fill="#006b7f" stroke="#006b7f"/>
<polygon points="505.4,183.2 503.3,184.2 499.9,184.1 501.9,183.2" fill="#00756a" stroke="#00756a"/>
<polygon points="503.3,184.2 501.2,185.4 497.8,185.2 499.9,184.1" fill="#007668" stroke="#007668"/>
<polygon points="550.0,178.8 548.0,178.2 543.8,179.4 545.8,180.0" fill="#006b7f" stroke="#006b7f"/>
<polygon points="529.8,177.5 527.7,177.6 523.9,178.3 525.9,178.3" fill="#006a81" stroke="#006a81"/>
<polygon points="501.2,185.4 499.1,186.6 495.8,186.3 497.8,185.2" fill="#007766" stroke="#007766"/>
<polygon points="566.3,182.8 564.4,181.7 559.8,183.1 561.8,184.3" fill="#006f75" stroke="#006f75"/>
<polygon points="499.1,186.6 497.0,187.9 493.7,187.6 495.8,186.3" fill="#007863" stroke="#007863"/>
<polygon points="527.7,177.6 525.7,177.8 521.8,178.5 523.9,178.3" fill="#006882" stroke="#006882"/>
<polygon points="548.0,178.2 546.0,177.7 541.8,178.8 543.8,179.4" fill="#006782" stroke="#006782"/>
<polygon points="497.0,187.9 494.9,189.4 491.6,188.9 493.7,187.6" fill="#007a5f" stroke="#007a5f"/>
<polygon points="494.9,189.4 492.8,191.0 489.6,190.4 491.6,188.9" fill="#007c5c" stroke="#007c5c"/>
<polygon points="564.4,181.7 562.4,180.7 557.9,182.1 559.8,183.1" fill="#006c7d" stroke="#006c7d"/>
<polygon points="525.7,177.8 523.6,178.2 519.8,178.7 521.8,178.5" fill="#006682" stroke="#006682"/>
<polygon points="492.8,191.0 490.7,192.6 487.5,191.9 489.6,190.4" fill="#007d57" stroke="#007d57"/>
<polygon points="546.0,177.7 544.0,177.3 539.8,178.3 541.8,178.8" fill="#006383" stroke="#006383"/>
<polygon points="490.7,192.6 488.6,194.4 485.4,193.6 487.5,191.9" fill="#007e52" stroke="#007e52"/>
<polygon points="488.6,194.4 486.5,196.2 483.3,195.3 485.4,193.6" fill="#007f4d" stroke="#007f4d"/>
<polygon points="523.6,178.2 521.5,178.6 517.8,179.0 519.8,178.7" fill="#006582" stroke="#006582"/>
<polygon points="486.5,196.2 484.4,198.2 481.2,197.2 483.3,195.3" fill="#008048" stroke="#008048"/>
<polygon points="473.8,210.6 471.7,213.4 468.7,212.1 470.8,209.3" fill="#10881f" stroke="#10881f"/>
<polygon points="484.4,198.2 482.3,200.4 479.1,199.2 481.2,197.2" fill="#008141" stroke="#008141"/>
<polygon points="475.9,207.8 473.8,210.6 470.8,209.3 472.9,206.5" fill="#0c8626" stroke="#0c8626"/>
<polygon points="482.3,200.4 480.1,202.7 477.1,201.5 479.1,199.2" fill="#00823a" stroke="#00823a"/>
<polygon points="478.0,205.2 475.9,207.8 472.9,206.5 475.0,203.9" fill="#07852d" stroke="#07852d"/>
<polygon points="562.4,180.7 560.4,179.8 556.0,181.1 557.9,182.1" fill="#006782" stroke="#006782"/>
<polygon points="480.1,202.7 478.0,205.2 475.0,203.9 477.1,201.5" fill="#038434" stroke="#038434"/>
<polygon points="544.0,177.3 542.0,177.0 537.9,178.0 539.8,178.3" fill="#005f85" stroke="#005f85"/>
<polygon points="521.5,178.6 519.5,179.1 515.7,179.5 517.8,179.0" fill="#006583" stroke="#006583"/>
<polygon points="519.5,179.1 517.4,179.7 513.7,180.0 515.7,179.5" fill="#006483" stroke="#006483"/>
<polygon points="542.0,177.0 540.0,176.8 535.8,177.7 537.9,178.0" fill="#005c86" stroke="#005c86"/>
<polygon points="560.4,179.8 558.5,178.9 554.0,180.2 556.0,181.1" fill="#006184" stroke="#006184"/>
<polygon points="517.4,179.7 515.3,180.5 511.6,180.6 513.7,180.0" fill="#006583" stroke="#006583"/>
<polygon points="540.0,176.8 537.9,176.7 533.8,177.5 535.8,177.7" fill="#005987" stroke="#005987"/>
<polygon points="515.3,180.5 513.2,181.3 509.6,181.4 511.6,180.6" fill="#006583" stroke="#006583"/>
<polygon points="558.5,178.9 556.5,178.2 552.0,179.4 554.0,180.2" fill="#005c86" stroke="#005c86"/>
<polygon points="513.2,181.3 511.1,182.2 507.5,182.2 509.6,181.4" fill="#006682" stroke="#006682"/>
<polygon points="537.9,176.7 535.9,176.7 531.8,177.5 533.8,177.5" fill="#005688" stroke="#005688"/>
<polygon points="511.1,182.2 509.0,183.3 505.4,183.2 507.5,182.2" fill="#006782" stroke="#006782"/>
<polygon points="556.5,178.2 554.4,177.6 550.0,178.8 552.0,179.4" fill="#005788" stroke="#005788"/>
<polygon points="535.9,176.7 533.8,176.8 529.8,177.5 531.8,177.5" fill="#005489" stroke="#005489"/>
<polygon points="509.0,183.3 506.9,184.4 503.3,184.2 505.4,183.2" fill="#006981" stroke="#006981"/>
<polygon points="506.9,184.4 504.8,185.7 501.2,185.4 503.3,184.2" fill="#006b7f" stroke="#006b7f"/>
<polygon points="554.4,177.6 552.4,177.1 548.0,178.2 550.0,178.8" fill="#00528a" stroke="#00528a"/>
<polygon points="533.8,176.8 531.7,177.0 527.7,177.6 529.8,177.5" fill="#00528a" stroke="#00528a"/>
<polygon points="504.8,185.7 502.6,187.0 499.1,186.6 501.2,185.4" fill="#006c7c" stroke="#006c7c"/>
<polygon points="571.1,181.3 569.1,180.3 564.4,181.7 566.3,182.8" fill="#005987" stroke="#005987"/>
<polygon points="502.6,187.0 500.5,188.5 497.0,187.9 499.1,186.6" fill="#006d79" stroke="#006d79"/>
<polygon points="531.7,177.0 529.6,177.3 525.7,177.8 527.7,177.6" fill="#00518a" stroke="#00518a"/>
<polygon points="552.4,177.1 550.4,176.7 546.0,177.7 548.0,178.2" fill="#004e8b" stroke="#004e8b"/>
<polygon points="500.5,188.5 498.4,190.0 494.9,189.4 497.0,187.9" fill="#006f75" stroke="#006f75"/>
<polygon points="498.4,190.0 496.2,191.7 492.8,191.0 494.9,189.4" fill="#007171" stroke="#007171"/>
<polygon points="569.1,180.3 567.1,179.4 562.4,180.7 564.4,181.7" fill="#005389" stroke="#005389"/>
<polygon points="529.6,177.3 527.5,177.8 523.6,178.2 525.7,177.8" fill="#00508b" stroke="#00508b"/>
<polygon points="496.2,191.7 494.1,193.5 490.7,192.6 492.8,191.0" fill="#00736d" stroke="#00736d"/>
<polygon points="494.1,193.5 492.0,195.4 488.6,194.4 490.7,192.6" fill="#007668" stroke="#007668"/>
<polygon points="550.4,176.7 548.3,176.4 544.0,177.3 546.0,177.7" fill="#004a8d" stroke="#004a8d"/>
<polygon points="492.0,195.4 489.8,197.3 486.5,196.2 488.6,194.4" fill="#007862" stroke="#007862"/>
<polygon points="489.8,197.3 487.7,199.4 484.4,198.2 486.5,196.2" fill="#007b5c" stroke="#007b5c"/>
<polygon points="527.5,177.8 525.5,178.3 521.5,178.6 523.6,178.2" fill="#004f8b" stroke="#004f8b"/>
<polygon points="476.9,212.1 474.7,215.0 471.7,213.4 473.8,210.6" fill="#07852e" stroke="#07852e"/>
<polygon points="487.7,199.4 485.5,201.7 482.3,200.4 484.4,198.2" fill="#007d56" stroke="#007d56"/>
<polygon points="479.0,209.3 476.9,212.1 473.8,210.6 475.9,207.8" fill="#028335" stroke="#028335"/>
<polygon points="485.5,201.7 483.3,204.1 480.1,202.7 482.3,200.4" fill="#007e4e" stroke="#007e4e"/>
<polygon points="481.2,206.6 479.0,209.3 475.9,207.8 478.0,205.2" fill="#00823e" stroke="#00823e"/>
<polygon points="483.3,204.1 481.2,206.6 478.0,205.2 480.1,202.7" fill="#008046" stroke="#008046"/>
<polygon points="567.1,179.4 565.1,178.5 560.4,179.8 562.4,180.7" fill="#004d8c" stroke="#004d8c"/>
<polygon points="548.3,176.4 546.3,176.1 542.0,177.0 544.0,177.3" fill="#00478e" stroke="#00478e"/>
<polygon points="525.5,178.3 523.3,178.9 519.5,179.1 521.5,178.6" fill="#004f8b" stroke="#004f8b"/>
<polygon points="523.3,178.9 521.2,179.6 517.4,179.7 519.5,179.1" fill="#004f8b" stroke="#004f8b"/>
<polygon points="546.3,176.1 544.2,176.0 540.0,176.8 542.0,177.0" fill="#00448e" stroke="#00448e"/>
<polygon points="565.1,178.5 563.1,177.8 558.5,178.9 560.4,179.8" fill="#00488e" stroke="#00488e"/>
<polygon points="521.2,179.6 519.1,180.4 515.3,180.5 517.4,179.7" fill="#004f8b" stroke="#004f8b"/>
<polygon points="544.2,176.0 542.1,176.0 537.9,176.7 540.0,176.8" fill="#00418d" stroke="#00418d"/>
<polygon points="519.1,180.4 517.0,181.4 513.2,181.3 515.3,180.5" fill="#00508a" stroke="#00508a"/>
<polygon points="563.1,177.8 561.0,177.1 556.5,178.2 558.5,178.9" fill="#00428e" stroke="#00428e"/>
<polygon points="517.0,181.4 514.9,182.4 511.1,182.2 513.2,181.3" fill="#00518a" stroke="#00518a"/>
<polygon points="542.1,176.0 540.1,176.1 535.9,176.7 537.9,176.7" fill="#003e8d" stroke="#003e8d"/>
<polygon points="514.9,182.4 512.7,183.6 509.0,183.3 511.1,182.2" fill="#005389" stroke="#005389"/>
<polygon points="561.0,177.1 559.0,176.6 554.4,177.6 556.5,178.2" fill="#003d8c" stroke="#003d8c"/>
<polygon points="540.1,176.1 538.0,176.3 533.8,176.8 535.9,176.7" fill="#003c8c" stroke="#003c8c"/>
<polygon points="512.7,183.6 510.6,184.8 506.9,184.4 509.0,183.3" fill="#005589" stroke="#005589"/>
<polygon points="510.6,184.8 508.4,186.2 504.8,185.7 506.9,184.4" fill="#005788" stroke="#005788"/>
<polygon points="559.0,176.6 557.0,176.1 552.4,177.1 554.4,177.6" fill="#00388b" stroke="#00388b"/>
<polygon points="538.0,176.3 535.9,176.6 531.7,177.0 533.8,176.8" fill="#003a8b" stroke="#003a8b"/>
<polygon points="508.4,186.2 506.3,187.6 502.6,187.0 504.8,185.7" fill="#005a87" stroke="#005a87"/>
<polygon points="576.0,180.0 574.0,179.0 569.1,180.3 571.1,181.3" fill="#003e8d" stroke="#003e8d"/>
<polygon points="506.3,187.6 504.1,189.2 500.5,188.5 502.6,187.0" fill="#005d86" stroke="#005d86"/>
<polygon points="535.9,176.6 533.7,177.0 529.6,177.3 531.7,177.0" fill="#00398b" stroke="#00398b"/>
<polygon points="504.1,189.2 501.9,190.9 498.4,190.0 500.5,188.5" fill="#006184" stroke="#006184"/>
<polygon points="557.0,176.1 554.9,175.8 550.4,176.7 552.4,177.1" fill="#00338a" stroke="#00338a"/>
<polygon points="501.9,190.9 499.8,192.7 496.2,191.7 498.4,190.0" fill="#006583" stroke="#006583"/>
<polygon points="574.0,179.0 571.9,178.2 567.1,179.4 569.1,180.3" fill="#00388b" stroke="#00388b"/>
<polygon points="499.8,192.7 497.6,194.5 494.1,193.5 496.2,191.7" fill="#006981" stroke="#006981"/>
<polygon points="533.7,177.0 531.6,177.5 527.5,177.8 529.6,177.3" fill="#00388b" stroke="#00388b"/>
<polygon points="497.6,194.5 495.4,196.5 492.0,195.4 494.1,193.5" fill="#006c7c" stroke="#006c7c"/>
<polygon points="554.9,175.8 552.8,175.6 548.3,176.4 550.4,176.7" fill="#002f88" stroke="#002f88"/>
<polygon points="495.4,196.5 493.2,198.6 489.8,197.3 492.0,195.4" fill="#006f76" stroke="#006f76"/>
<polygon points="493.2,198.6 491.0,200.8 487.7,199.4 489.8,197.3" fill="#007270" stroke="#007270"/>
<polygon points="480.1,213.9 477.9,216.9 474.7,215.0 476.9,212.1" fill="#00823e" stroke="#00823e"/>
<polygon points="491.0,200.8 488.9,203.2 485.5,201.7 487.7,199.4" fill="#007569" stroke="#007569"/>
<polygon points="531.6,177.5 529.5,178.1 525.5,178.3 527.5,177.8" fill="#00378b" stroke="#00378b"/>
<polygon points="482.3,211.1 480.1,213.9 476.9,212.1 479.0,209.3" fill="#008048" stroke="#008048"/>
<polygon points="488.9,203.2 486.7,205.7 483.3,204.1 485.5,201.7" fill="#007962" stroke="#007962"/>
<polygon points="484.5,208.3 482.3,211.1 479.0,209.3 481.2,206.6" fill="#007e51" stroke="#007e51"/>
<polygon points="486.7,205.7 484.5,208.3 481.2,206.6 483.3,204.1" fill="#007c5a" stroke="#007c5a"/>
<polygon points="571.9,178.2 569.9,177.4 565.1,178.5 567.1,179.4" fill="#003189" stroke="#003189"/>
<polygon points="552.8,175.6 550.7,175.4 546.3,176.1 548.3,176.4" fill="#002c87" stroke="#002c87"/>
<polygon points="529.5,178.1 527.4,178.8 523.3,178.9 525.5,178.3" fill="#00378b" stroke="#00378b"/>
<polygon points="527.4,178.8 525.2,179.7 521.2,179.6 523.3,178.9" fill="#00388b" stroke="#00388b"/>
<polygon points="569.9,177.4 567.9,176.7 563.1,177.8 565.1,178.5" fill="#002b87" stroke="#002b87"/>
<polygon points="550.7,175.4 548.6,175.4 544.2,176.0 546.3,176.1" fill="#002987" stroke="#002987"/>
<polygon points="525.2,179.7 523.1,180.6 519.1,180.4 521.2,179.6" fill="#00398b" stroke="#00398b"/>
<polygon points="548.6,175.4 546.5,175.5 542.1,176.0 544.2,176.0" fill="#002686" stroke="#002686"/>
<polygon points="523.1,180.6 520.9,181.6 517.0,181.4 519.1,180.4" fill="#003a8c" stroke="#003a8c"/>
<polygon points="567.9,176.7 565.8,176.2 561.0,177.1 563.1,177.8" fill="#002686" stroke="#002686"/>
<polygon points="520.9,181.6 518.7,182.8 514.9,182.4 517.0,181.4" fill="#003c8c" stroke="#003c8c"/>
<polygon points="546.5,175.5 544.4,175.6 540.1,176.1 542.1,176.0" fill="#002485" stroke="#002485"/>
<polygon points="518.7,182.8 516.6,184.0 512.7,183.6 514.9,182.4" fill="#003e8d" stroke="#003e8d"/>
<polygon points="565.8,176.2 563.7,175.7 559.0,176.6 561.0,177.1" fill="#002184" stroke="#002184"/>
<polygon points="516.6,184.0 514.4,185.4 510.6,184.8 512.7,183.6" fill="#00418d" stroke="#00418d"/>
<polygon points="544.4,175.6 542.3,175.9 538.0,176.3 540.1,176.1" fill="#002285" stroke="#002285"/>
<polygon points="514.4,185.4 512.2,186.8 508.4,186.2 510.6,184.8" fill="#00448e" stroke="#00448e"/>
<polygon points="563.7,175.7 561.7,175.3 557.0,176.1 559.0,176.6" fill="#001c83" stroke="#001c83"/>
<polygon points="542.3,175.9 540.1,176.3 535.9,176.6 538.0,176.3" fill="#002084" stroke="#002084"/>
<polygon points="512.2,186.8 510.0,188.4 506.3,187.6 508.4,186.2" fill="#00478e" stroke="#00478e"/>
<polygon points="581.0,178.8 579.0,177.9 574.0,179.0 576.0,180.0" fill="#002184" stroke="#002184"/>
<polygon points="510.0,188.4 507.8,190.1 504.1,189.2 506.3,187.6" fill="#004b8c" stroke="#004b8c"/>
<polygon points="507.8,190.1 505.6,191.9 501.9,190.9 504.1,189.2" fill="#004f8b" stroke="#004f8b"/>
<polygon points="540.1,176.3 538.0,176.8 533.7,177.0 535.9,176.6" fill="#002084" stroke="#002084"/>
<polygon points="561.7,175.3 559.6,175.1 554.9,175.8 557.0,176.1" fill="#001882" stroke="#001882"/>
<polygon points="505.6,191.9 503.4,193.8 499.8,192.7 501.9,190.9" fill="#005389" stroke="#005389"/>
<polygon points="503.4,193.8 501.2,195.8 497.6,194.5 499.8,192.7" fill="#005788" stroke="#005788"/>
<polygon points="579.0,177.9 577.0,177.1 571.9,178.2 574.0,179.0" fill="#001b83" stroke="#001b83"/>
<polygon points="538.0,176.8 535.8,177.4 531.6,177.5 533.7,177.0" fill="#001f84" stroke="#001f84"/>
<polygon points="501.2,195.8 499.0,197.9 495.4,196.5 497.6,194.5" fill="#005c86" stroke="#005c86"/>
<polygon points="499.0,197.9 496.8,200.1 493.2,198.6 495.4,196.5" fill="#006284" stroke="#006284"/>
<polygon points="559.6,175.1 557.5,174.9 552.8,175.6 554.9,175.8" fill="#001481" stroke="#001481"/>
<polygon points="496.8,200.1 494.5,202.5 491.0,200.8 493.2,198.6" fill="#006882" stroke="#006882"/>
<polygon points="483.4,216.0 481.2,219.1 477.9,216.9 480.1,213.9" fill="#007e50" stroke="#007e50"/>
<polygon points="494.5,202.5 492.3,204.9 488.9,203.2 491.0,200.8" fill="#006c7c" stroke="#006c7c"/>
<polygon points="485.7,213.1 483.4,216.0 480.1,213.9 482.3,211.1" fill="#007c5a" stroke="#007c5a"/>
<polygon points="492.3,204.9 490.1,207.5 486.7,205.7 488.9,203.2" fill="#007074" stroke="#007074"/>
<polygon points="487.9,210.2 485.7,213.1 482.3,211.1 484.5,208.3" fill="#007863" stroke="#007863"/>
<polygon points="490.1,207.5 487.9,210.2 484.5,208.3 486.7,205.7" fill="#00746c" stroke="#00746c"/>
<polygon points="535.8,177.4 533.7,178.1 529.5,178.1 531.6,177.5" fill="#001f84" stroke="#001f84"/>
<polygon points="577.0,177.1 574.9,176.4 569.9,177.4 571.9,178.2" fill="#001581" stroke="#001581"/>
<polygon points="557.5,174.9 555.3,174.8 550.7,175.4 552.8,175.6" fill="#001481" stroke="#001481"/>
<polygon points="533.7,178.1 531.5,178.9 527.4,178.8 529.5,178.1" fill="#001f84" stroke="#001f84"/>
<polygon points="531.5,178.9 529.3,179.9 525.2,179.7 527.4,178.8" fill="#002084" stroke="#002084"/>
<polygon points="574.9,176.4 572.8,175.8 567.9,176.7 569.9,177.4" fill="#001481" stroke="#001481"/>
<polygon points="555.3,174.8 553.2,174.9 548.6,175.4 550.7,175.4" fill="#001481" stroke="#001481"/>
<polygon points="529.3,179.9 527.2,180.9 523.1,180.6 525.2,179.7" fill="#002185" stroke="#002185"/>
<polygon points="553.2,174.9 551.1,175.1 546.5,175.5 548.6,175.4" fill="#001481" stroke="#001481"/>
<polygon points="527.2,180.9 525.0,182.0 520.9,181.6 523.1,180.6" fill="#002385" stroke="#002385"/>
<polygon points="572.8,175.8 570.7,175.3 565.8,176.2 567.9,176.7" fill="#001481" stroke="#001481"/>
<polygon points="525.0,182.0 522.8,183.3 518.7,182.8 520.9,181.6" fill="#002586" stroke="#002586"/>
<polygon points="551.1,175.1 548.9,175.3 544.4,175.6 546.5,175.5" fill="#001481" stroke="#001481"/>
<polygon points="522.8,183.3 520.5,184.7 516.6,184.0 518.7,182.8" fill="#002886" stroke="#002886"/>
<polygon points="570.7,175.3 568.6,174.9 563.7,175.7 565.8,176.2" fill="#001481" stroke="#001481"/>
<polygon points="520.5,184.7 518.3,186.1 514.4,185.4 516.6,184.0" fill="#002b87" stroke="#002b87"/>
<polygon points="548.9,175.3 546.8,175.7 542.3,175.9 544.4,175.6" fill="#001481" stroke="#001481"/>
<polygon points="518.3,186.1 516.1,187.7 512.2,186.8 514.4,185.4" fill="#002e88" stroke="#002e88"/>
<polygon points="568.6,174.9 566.5,174.6 561.7,175.3 563.7,175.7" fill="#001481" stroke="#001481"/>
<polygon points="516.1,187.7 513.9,189.4 510.0,188.4 512.2,186.8" fill="#003289" stroke="#003289"/>
<polygon points="546.8,175.7 544.6,176.2 540.1,176.3 542.3,175.9" fill="#001481" stroke="#001481"/>
<polygon points="513.9,189.4 511.7,191.2 507.8,190.1 510.0,188.4" fill="#00378b" stroke="#00378b"/>
<polygon points="511.7,191.2 509.4,193.1 505.6,191.9 507.8,190.1" fill="#003c8c" stroke="#003c8c"/>
<polygon points="544.6,176.2 542.4,176.8 538.0,176.8 540.1,176.3" fill="#001481" stroke="#001481"/>
<polygon points="566.5,174.6 564.4,174.5 559.6,175.1 561.7,175.3" fill="#001481" stroke="#001481"/>
<polygon points="509.4,193.1 507.2,195.1 503.4,193.8 505.6,191.9" fill="#00418d" stroke="#00418d"/>
<polygon points="507.2,195.1 504.9,197.3 501.2,195.8 503.4,193.8" fill="#00468e" stroke="#00468e"/>
<polygon points="504.9,197.3 502.7,199.5 499.0,197.9 501.2,195.8" fill="#004c8c" stroke="#004c8c"/>
<polygon points="542.4,176.8 540.2,177.5 535.8,177.4 538.0,176.8" fill="#001481" stroke="#001481"/>
<polygon points="502.7,199.5 500.4,201.9 496.8,200.1 499.0,197.9" fill="#00528a" stroke="#00528a"/>
<polygon points="500.4,201.9 498.2,204.3 494.5,202.5 496.8,200.1" fill="#005888" stroke="#005888"/>
<polygon points="486.9,218.4 484.6,221.6 481.2,219.1 483.4,216.0" fill="#007961" stroke="#007961"/>
<polygon points="564.4,174.5 562.3,174.4 557.5,174.9 559.6,175.1" fill="#001481" stroke="#001481"/>
<polygon points="498.2,204.3 495.9,206.9 492.3,204.9 494.5,202.5" fill="#005e85" stroke="#005e85"/>
<polygon points="489.1,215.4 486.9,218.4 483.4,216.0 485.7,213.1" fill="#00746b" stroke="#00746b"/>
<polygon points="495.9,206.9 493.7,209.6 490.1,207.5 492.3,204.9" fill="#006583" stroke="#006583"/>
<polygon points="491.4,212.4 489.1,215.4 485.7,213.1 487.9,210.2" fill="#007075" stroke="#007075"/>
<polygon points="493.7,209.6 491.4,212.4 487.9,210.2 490.1,207.5" fill="#006b7e" stroke="#006b7e"/>
<polygon points="540.2,177.5 538.0,178.3 533.7,178.1 535.8,177.4" fill="#001481" stroke="#001481"/>
<polygon points="562.3,174.4 560.1,174.4 555.3,174.8 557.5,174.9" fill="#001481" stroke="#001481"/>
<polygon points="538.0,178.3 535.8,179.2 531.5,178.9 533.7,178.1" fill="#001481" stroke="#001481"/>
<polygon points="535.8,179.2 533.6,180.3 529.3,179.9 531.5,178.9" fill="#001481" stroke="#001481"/>
<polygon points="560.1,174.4 558.0,174.6 553.2,174.9 555.3,174.8" fill="#001481" stroke="#001481"/>
<polygon points="533.6,180.3 531.4,181.4 527.2,180.9 529.3,179.9" fill="#001481" stroke="#001481"/>
<polygon points="558.0,174.6 555.8,174.8 551.1,175.1 553.2,174.9" fill="#001481" stroke="#001481"/>
<polygon points="531.4,181.4 529.2,182.7 525.0,182.0 527.2,180.9" fill="#001481" stroke="#001481"/>
<polygon points="529.2,182.7 526.9,184.0 522.8,183.3 525.0,182.0" fill="#001481" stroke="#001481"/>
<polygon points="555.8,174.8 553.6,175.2 548.9,175.3 551.1,175.1" fill="#001481" stroke="#001481"/>
<polygon points="526.9,184.0 524.7,185.5 520.5,184.7 522.8,183.3" fill="#001481" stroke="#001481"/>
<polygon points="524.7,185.5 522.4,187.1 518.3,186.1 520.5,184.7" fill="#001681" stroke="#001681"/>
<polygon points="553.6,175.2 551.4,175.6 546.8,175.7 548.9,175.3" fill="#001481" stroke="#001481"/>
<polygon points="522.4,187.1 520.2,188.8 516.1,187.7 518.3,186.1" fill="#001a82" stroke="#001a82"/>
<polygon points="520.2,188.8 517.9,190.6 513.9,189.4 516.1,187.7" fill="#001e84" stroke="#001e84"/>
<polygon points="551.4,175.6 549.2,176.2 544.6,176.2 546.8,175.7" fill="#001481" stroke="#001481"/>
<polygon points="517.9,190.6 515.6,192.5 511.7,191.2 513.9,189.4" fill="#002385" stroke="#002385"/>
<polygon points="515.6,192.5 513.4,194.6 509.4,193.1 511.7,191.2" fill="#002886" stroke="#002886"/>
<polygon points="549.2,176.2 547.0,176.9 542.4,176.8 544.6,176.2" fill="#001481" stroke="#001481"/>
<polygon points="513.4,194.6 511.1,196.7 507.2,195.1 509.4,193.1" fill="#002e88" stroke="#002e88"/>
<polygon points="511.1,196.7 508.8,199.0 504.9,197.3 507.2,195.1" fill="#00348a" stroke="#00348a"/>
<polygon points="508.8,199.0 506.5,201.4 502.7,199.5 504.9,197.3" fill="#003a8c" stroke="#003a8c"/>
<polygon points="547.0,176.9 544.8,177.7 540.2,177.5 542.4,176.8" fill="#001481" stroke="#001481"/>
<polygon points="506.5,201.4 504.2,203.8 500.4,201.9 502.7,199.5" fill="#00418e" stroke="#00418e"/>
<polygon points="490.5,221.1 488.1,224.4 484.6,221.6 486.9,218.4" fill="#007171" stroke="#007171"/>
<polygon points="504.2,203.8 501.9,206.4 498.2,204.3 500.4,201.9" fill="#00488d" stroke="#00488d"/>
<polygon points="492.8,218.0 490.5,221.1 486.9,218.4 489.1,215.4" fill="#006c7b" stroke="#006c7b"/>
<polygon points="501.9,206.4 499.7,209.2 495.9,206.9 498.2,204.3" fill="#004f8b" stroke="#004f8b"/>
<polygon points="495.1,214.9 492.8,218.0 489.1,215.4 491.4,212.4" fill="#006682" stroke="#006682"/>
<polygon points="499.7,209.2 497.4,212.0 493.7,209.6 495.9,206.9" fill="#005688" stroke="#005688"/>
<polygon points="497.4,212.0 495.1,214.9 491.4,212.4 493.7,209.6" fill="#005e85" stroke="#005e85"/>
<polygon points="544.8,177.7 542.5,178.7 538.0,178.3 540.2,177.5" fill="#001481" stroke="#001481"/>
<polygon points="542.5,178.7 540.3,179.7 535.8,179.2 538.0,178.3" fill="#001481" stroke="#001481"/>
<polygon points="540.3,179.7 538.0,180.8 533.6,180.3 535.8,179.2" fill="#001481" stroke="#001481"/>
<polygon points="538.0,180.8 535.8,182.1 531.4,181.4 533.6,180.3" fill="#001481" stroke="#001481"/>
<polygon points="535.8,182.1 533.5,183.5 529.2,182.7 531.4,181.4" fill="#001481" stroke="#001481"/>
<polygon points="533.5,183.5 531.3,184.9 526.9,184.0 529.2,182.7" fill="#001481" stroke="#001481"/>
<polygon points="531.3,184.9 529.0,186.5 524.7,185.5 526.9,184.0" fill="#001481" stroke="#001481"/>
<polygon points="529.0,186.5 526.7,188.2 522.4,187.1 524.7,185.5" fill="#001481" stroke="#001481"/>
<polygon points="526.7,188.2 524.4,190.1 520.2,188.8 522.4,187.1" fill="#001481" stroke="#001481"/>
<polygon points="524.4,190.1 522.1,192.0 517.9,190.6 520.2,188.8" fill="#001481" stroke="#001481"/>
<polygon points="522.1,192.0 519.8,194.1 515.6,192.5 517.9,190.6" fill="#001481" stroke="#001481"/>
<polygon points="519.8,194.1 517.5,196.2 513.4,194.6 515.6,192.5" fill="#001581" stroke="#001581"/>
<polygon points="517.5,196.2 515.2,198.5 511.1,196.7 513.4,194.6" fill="#001b83" stroke="#001b83"/>
<polygon points="515.2,198.5 512.8,200.9 508.8,199.0 511.1,196.7" fill="#002285" stroke="#002285"/>
<polygon points="512.8,200.9 510.5,203.4 506.5,201.4 508.8,199.0" fill="#002887" stroke="#002887"/>
<polygon points="494.2,224.2 491.8,227.6 488.1,224.4 490.5,221.1" fill="#006a80" stroke="#006a80"/>
<polygon points="510.5,203.4 508.2,206.1 504.2,203.8 506.5,201.4" fill="#003089" stroke="#003089"/>
<polygon points="496.5,220.9 494.2,224.2 490.5,221.1 492.8,218.0" fill="#006184" stroke="#006184"/>
<polygon points="508.2,206.1 505.9,208.8 501.9,206.4 504.2,203.8" fill="#00388b" stroke="#00388b"/>
<polygon points="498.8,217.7 496.5,220.9 492.8,218.0 495.1,214.9" fill="#005887" stroke="#005887"/>
<polygon points="505.9,208.8 503.5,211.7 499.7,209.2 501.9,206.4" fill="#00408d" stroke="#00408d"/>
<polygon points="501.2,214.6 498.8,217.7 495.1,214.9 497.4,212.0" fill="#00508a" stroke="#00508a"/>
<polygon points="503.5,211.7 501.2,214.6 497.4,212.0 499.7,209.2" fill="#00488d" stroke="#00488d"/>
</g>
<clipPath id="sc"><polygon points="460.4,209.8 461.1,209.9 461.8,210.0 462.4,210.1 463.1,210.3 463.8,210.5 464.5,210.7 465.2,210.9 465.9,211.1 466.6,211.3 467.3,211.6 468.0,211.9 468.7,212.1 469.4,212.4 470.2,212.8 470.9,213.1 471.7,213.4 472.4,213.8 473.2,214.2 474.0,214.6 474.7,215.0 475.5,215.5 476.3,215.9 477.1,216.4 477.9,216.9 478.7,217.4 479.5,218.0 480.4,218.5 481.2,219.1 482.0,219.7 482.9,220.3 483.7,220.9 484.6,221.6 485.5,222.3 486.4,223.0 487.3,223.7 488.1,224.4 489.1,225.2 490.0,226.0 490.9,226.8 491.8,227.6 494.2,224.2 496.5,220.9 498.8,217.7 501.2,214.6 503.5,211.7 505.9,208.8 508.2,206.1 510.5,203.4 512.8,200.9 515.2,198.5 517.5,196.2 519.8,194.1 522.1,192.0 524.4,190.1 526.7,188.2 529.0,186.5 531.3,184.9 533.5,183.5 535.8,182.1 538.0,180.8 540.3,179.7 542.5,178.7 544.8,177.7 547.0,176.9 549.2,176.2 551.4,175.6 553.6,175.2 555.8,174.8 558.0,174.6 560.1,174.4 562.3,174.4 564.4,174.5 566.5,174.6 568.6,174.9 570.7,175.3 572.8,175.8 574.9,176.4 577.0,177.1 579.0,177.9 581.0,178.8 579.8,179.1 578.5,179.4 577.2,179.7 576.0,180.0 574.7,180.3 573.5,180.7 572.3,181.0 571.1,181.3 569.9,181.7 568.7,182.0 567.5,182.4 566.3,182.8 565.2,183.1 564.0,183.5 562.9,183.9 561.8,184.3 560.7,184.7 559.5,185.1 558.4,185.5 557.4,185.9 556.3,186.3 555.2,186.8 554.2,187.2 553.1,187.6 552.1,188.1 551.0,188.5 550.0,189.0 549.0,189.4 548.0,189.9 547.0,190.4 546.0,190.8 545.0,191.3 544.0,191.8 543.1,192.3 542.1,192.8 541.1,193.3 540.2,193.8 539.3,194.3 538.3,194.8 537.4,195.3 535.6,193.9 533.8,192.5 532.0,191.2 530.2,190.0 528.4,188.9 526.6,187.8 524.7,186.9 522.9,186.0 521.0,185.2 519.1,184.5 517.3,183.9 515.4,183.4 513.5,183.0 511.6,182.6 509.7,182.4 507.8,182.2 505.8,182.1 503.9,182.1 502.0,182.3 500.0,182.5 498.1,182.8 496.1,183.1 494.2,183.6 492.2,184.2 490.3,184.9 488.3,185.6 486.3,186.5 484.3,187.4 482.3,188.5 480.4,189.6 478.4,190.9 476.4,192.2 474.4,193.6 472.4,195.2 470.4,197.0 468.4,199.2 466.4,201.5 464.4,204.1 462.4,206.8" clip-rule="nonzero"/></clipPath>
<pattern id="h1" patternUnits="userSpaceOnUse" width="8" height="4.3" patternTransform="rotate(-19 500 200)"><rect x="0" y="0" width="8" height="0.7" fill="#001014" fill-opacity="0.55"/></pattern>
<pattern id="h2" patternUnits="userSpaceOnUse" width="1.25" height="8" patternTransform="rotate(-27 500 200)"><rect x="0" y="0" width="0.35" height="8" fill="#001014" fill-opacity="0.3"/></pattern>
<g clip-path="url(#sc)"><rect x="450" y="160" width="140" height="80" fill="url(#h2)"/><rect x="450" y="160" width="140" height="80" fill="url(#h1)"/></g>
<polygon points="460.4,209.8 461.1,209.9 461.8,210.0 462.4,210.1 463.1,210.3 463.8,210.5 464.5,210.7 465.2,210.9 465.9,211.1 466.6,211.3 467.3,211.6 468.0,211.9 468.7,212.1 469.4,212.4 470.2,212.8 470.9,213.1 471.7,213.4 472.4,213.8 473.2,214.2 474.0,214.6 474.7,215.0 475.5,215.5 476.3,215.9 477.1,216.4 477.9,216.9 478.7,217.4 479.5,218.0 480.4,218.5 481.2,219.1 482.0,219.7 482.9,220.3 483.7,220.9 484.6,221.6 485.5,222.3 486.4,223.0 487.3,223.7 488.1,224.4 489.1,225.2 490.0,226.0 490.9,226.8 491.8,227.6 494.2,224.2 496.5,220.9 498.8,217.7 501.2,214.6 503.5,211.7 505.9,208.8 508.2,206.1 510.5,203.4 512.8,200.9 515.2,198.5 517.5,196.2 519.8,194.1 522.1,192.0 524.4,190.1 526.7,188.2 529.0,186.5 531.3,184.9 533.5,183.5 535.8,182.1 538.0,180.8 540.3,179.7 542.5,178.7 544.8,177.7 547.0,176.9 549.2,176.2 551.4,175.6 553.6,175.2 555.8,174.8 558.0,174.6 560.1,174.4 562.3,174.4 564.4,174.5 566.5,174.6 568.6,174.9 570.7,175.3 572.8,175.8 574.9,176.4 577.0,177.1 579.0,177.9 581.0,178.8 579.8,179.1 578.5,179.4 577.2,179.7 576.0,180.0 574.7,180.3 573.5,180.7 572.3,181.0 571.1,181.3 569.9,181.7 568.7,182.0 567.5,182.4 566.3,182.8 565.2,183.1 564.0,183.5 562.9,183.9 561.8,184.3 560.7,184.7 559.5,185.1 558.4,185.5 557.4,185.9 556.3,186.3 555.2,186.8 554.2,187.2 553.1,187.6 552.1,188.1 551.0,188.5 550.0,189.0 549.0,189.4 548.0,189.9 547.0,190.4 546.0,190.8 545.0,191.3 544.0,191.8 543.1,192.3 542.1,192.8 541.1,193.3 540.2,193.8 539.3,194.3 538.3,194.8 537.4,195.3" fill="none" stroke="#002018" stroke-opacity="0.5" stroke-width="0.5"/>
<text x="452.3" y="139.4" font-family="DejaVu Sans, Verdana, sans-serif" font-size="5.20" fill="#222" text-anchor="middle">92</text>
<text x="453.6" y="159.8" font-family="DejaVu Sans, Verdana, sans-serif" font-size="5.20" fill="#222" text-anchor="middle">94</text>
<text x="454.6" y="181.2" font-family="DejaVu Sans, Verdana, sans-serif" font-size="5.20" fill="#222" text-anchor="middle">96</text>
<text x="455.6" y="202.6" font-family="DejaVu Sans, Verdana, sans-serif" font-size="5.20" fill="#222" text-anchor="middle">98</text>
<text x="454.6" y="220.7" font-family="DejaVu Sans, Verdana, sans-serif" font-size="5.20" fill="#222" text-anchor="middle">100</text>
<text x="458.5" y="225.3" font-family="DejaVu Sans, Verdana, sans-serif" font-size="5.20" fill="#222" text-anchor="middle">5</text>
<text x="466.2" y="241.5" font-family="DejaVu Sans, Verdana, sans-serif" font-size="5.20" fill="#222" text-anchor="middle">4</text>
<text x="474.3" y="258.5" font-family="DejaVu Sans, Verdana, sans-serif" font-size="5.20" fill="#222" text-anchor="middle">3</text>
<text x="482.6" y="274.3" font-family="DejaVu Sans, Verdana, sans-serif" font-size="5.20" fill="#222" text-anchor="middle">2</text>
<text x="490.0" y="290.4" font-family="DejaVu Sans, Verdana, sans-serif" font-size="5.20" fill="#222" text-anchor="middle">1</text>
<text transform="translate(500.7 289.9) rotate(-21)" font-family="DejaVu Sans, Verdana, sans-serif" font-size="5.3" fill="#222" text-anchor="middle" y="1.9" textLength="10.6" lengthAdjust="spacingAndGlyphs">96.5</text>
<text transform="translate(513.0 285.9) rotate(-21)" font-family="DejaVu Sans, Verdana, sans-serif" font-size="5.3" fill="#222" text-anchor="middle" y="1.9" textLength="10.6" lengthAdjust="spacingAndGlyphs">89.9</text>
<text transform="translate(528.7 279.4) rotate(-21)" font-family="DejaVu Sans, Verdana, sans-serif" font-size="5.3" fill="#222" text-anchor="middle" y="1.9" textLength="10.6" lengthAdjust="spacingAndGlyphs">83.3</text>
<text transform="translate(545.4 273.8) rotate(-21)" font-family="DejaVu Sans, Verdana, sans-serif" font-size="5.3" fill="#222" text-anchor="middle" y="1.9" textLength="10.6" lengthAdjust="spacingAndGlyphs">76.7</text>
<text transform="translate(562.2 266.9) rotate(-21)" font-family="DejaVu Sans, Verdana, sans-serif" font-size="5.3" fill="#222" text-anchor="middle" y="1.9" textLength="10.6" lengthAdjust="spacingAndGlyphs">70.1</text>
<text transform="translate(577.9 260.1) rotate(-21)" font-family="DejaVu Sans, Verdana, sans-serif" font-size="5.3" fill="#222" text-anchor="middle" y="1.9" textLength="10.6" lengthAdjust="spacingAndGlyphs">63.5</text>
<text x="328.9" y="259.6" font-family="DejaVu Sans, Verdana, sans-serif" font-size="7.70" font-weight="normal" fill="#222" textLength="139.0" lengthAdjust="spacingAndGlyphs" stroke="#222" stroke-width="0.12">B: Sodium starch glycolate (Primogel) (mg)</text>
<text x="525.3" y="296.7" font-family="DejaVu Sans, Verdana, sans-serif" font-size="7.70" font-weight="normal" fill="#222" textLength="158.5" lengthAdjust="spacingAndGlyphs" stroke="#222" stroke-width="0.12">A: Lactose Monohydrate (Pharmatose)200 M (mg)</text>
<g transform="translate(440.3 190.8) rotate(-90)">
<text x="0.0" y="0.0" font-family="DejaVu Sans, Verdana, sans-serif" font-size="7.20" font-weight="normal" fill="#222" textLength="52.6" lengthAdjust="spacingAndGlyphs" stroke="#222" stroke-width="0.12">CDRGMP (%)</text>
</g>
<circle cx="461.5" cy="209.8" r="1.9" fill="#c00000" stroke="#700000" stroke-width="0.5"/>
<circle cx="492.1" cy="228.9" r="1.9" fill="#c00000" stroke="#700000" stroke-width="0.5"/>
<circle cx="470.3" cy="195.8" r="1.8" fill="#ffd0d4" stroke="#b06070" stroke-width="0.5"/>
<circle cx="489.4" cy="200.6" r="1.8" fill="#ffd0d4" stroke="#b06070" stroke-width="0.5"/>
<circle cx="503.3" cy="208.0" r="1.8" fill="#ffd0d4" stroke="#b06070" stroke-width="0.5"/>
<circle cx="581.5" cy="177.0" r="1.8" fill="#ffd0d4" stroke="#b06070" stroke-width="0.5"/>
<circle cx="537.3" cy="197.6" r="1.2" fill="#ffd0d4" stroke="#c07080" stroke-width="0.4"/>
</svg>
</body></html>
